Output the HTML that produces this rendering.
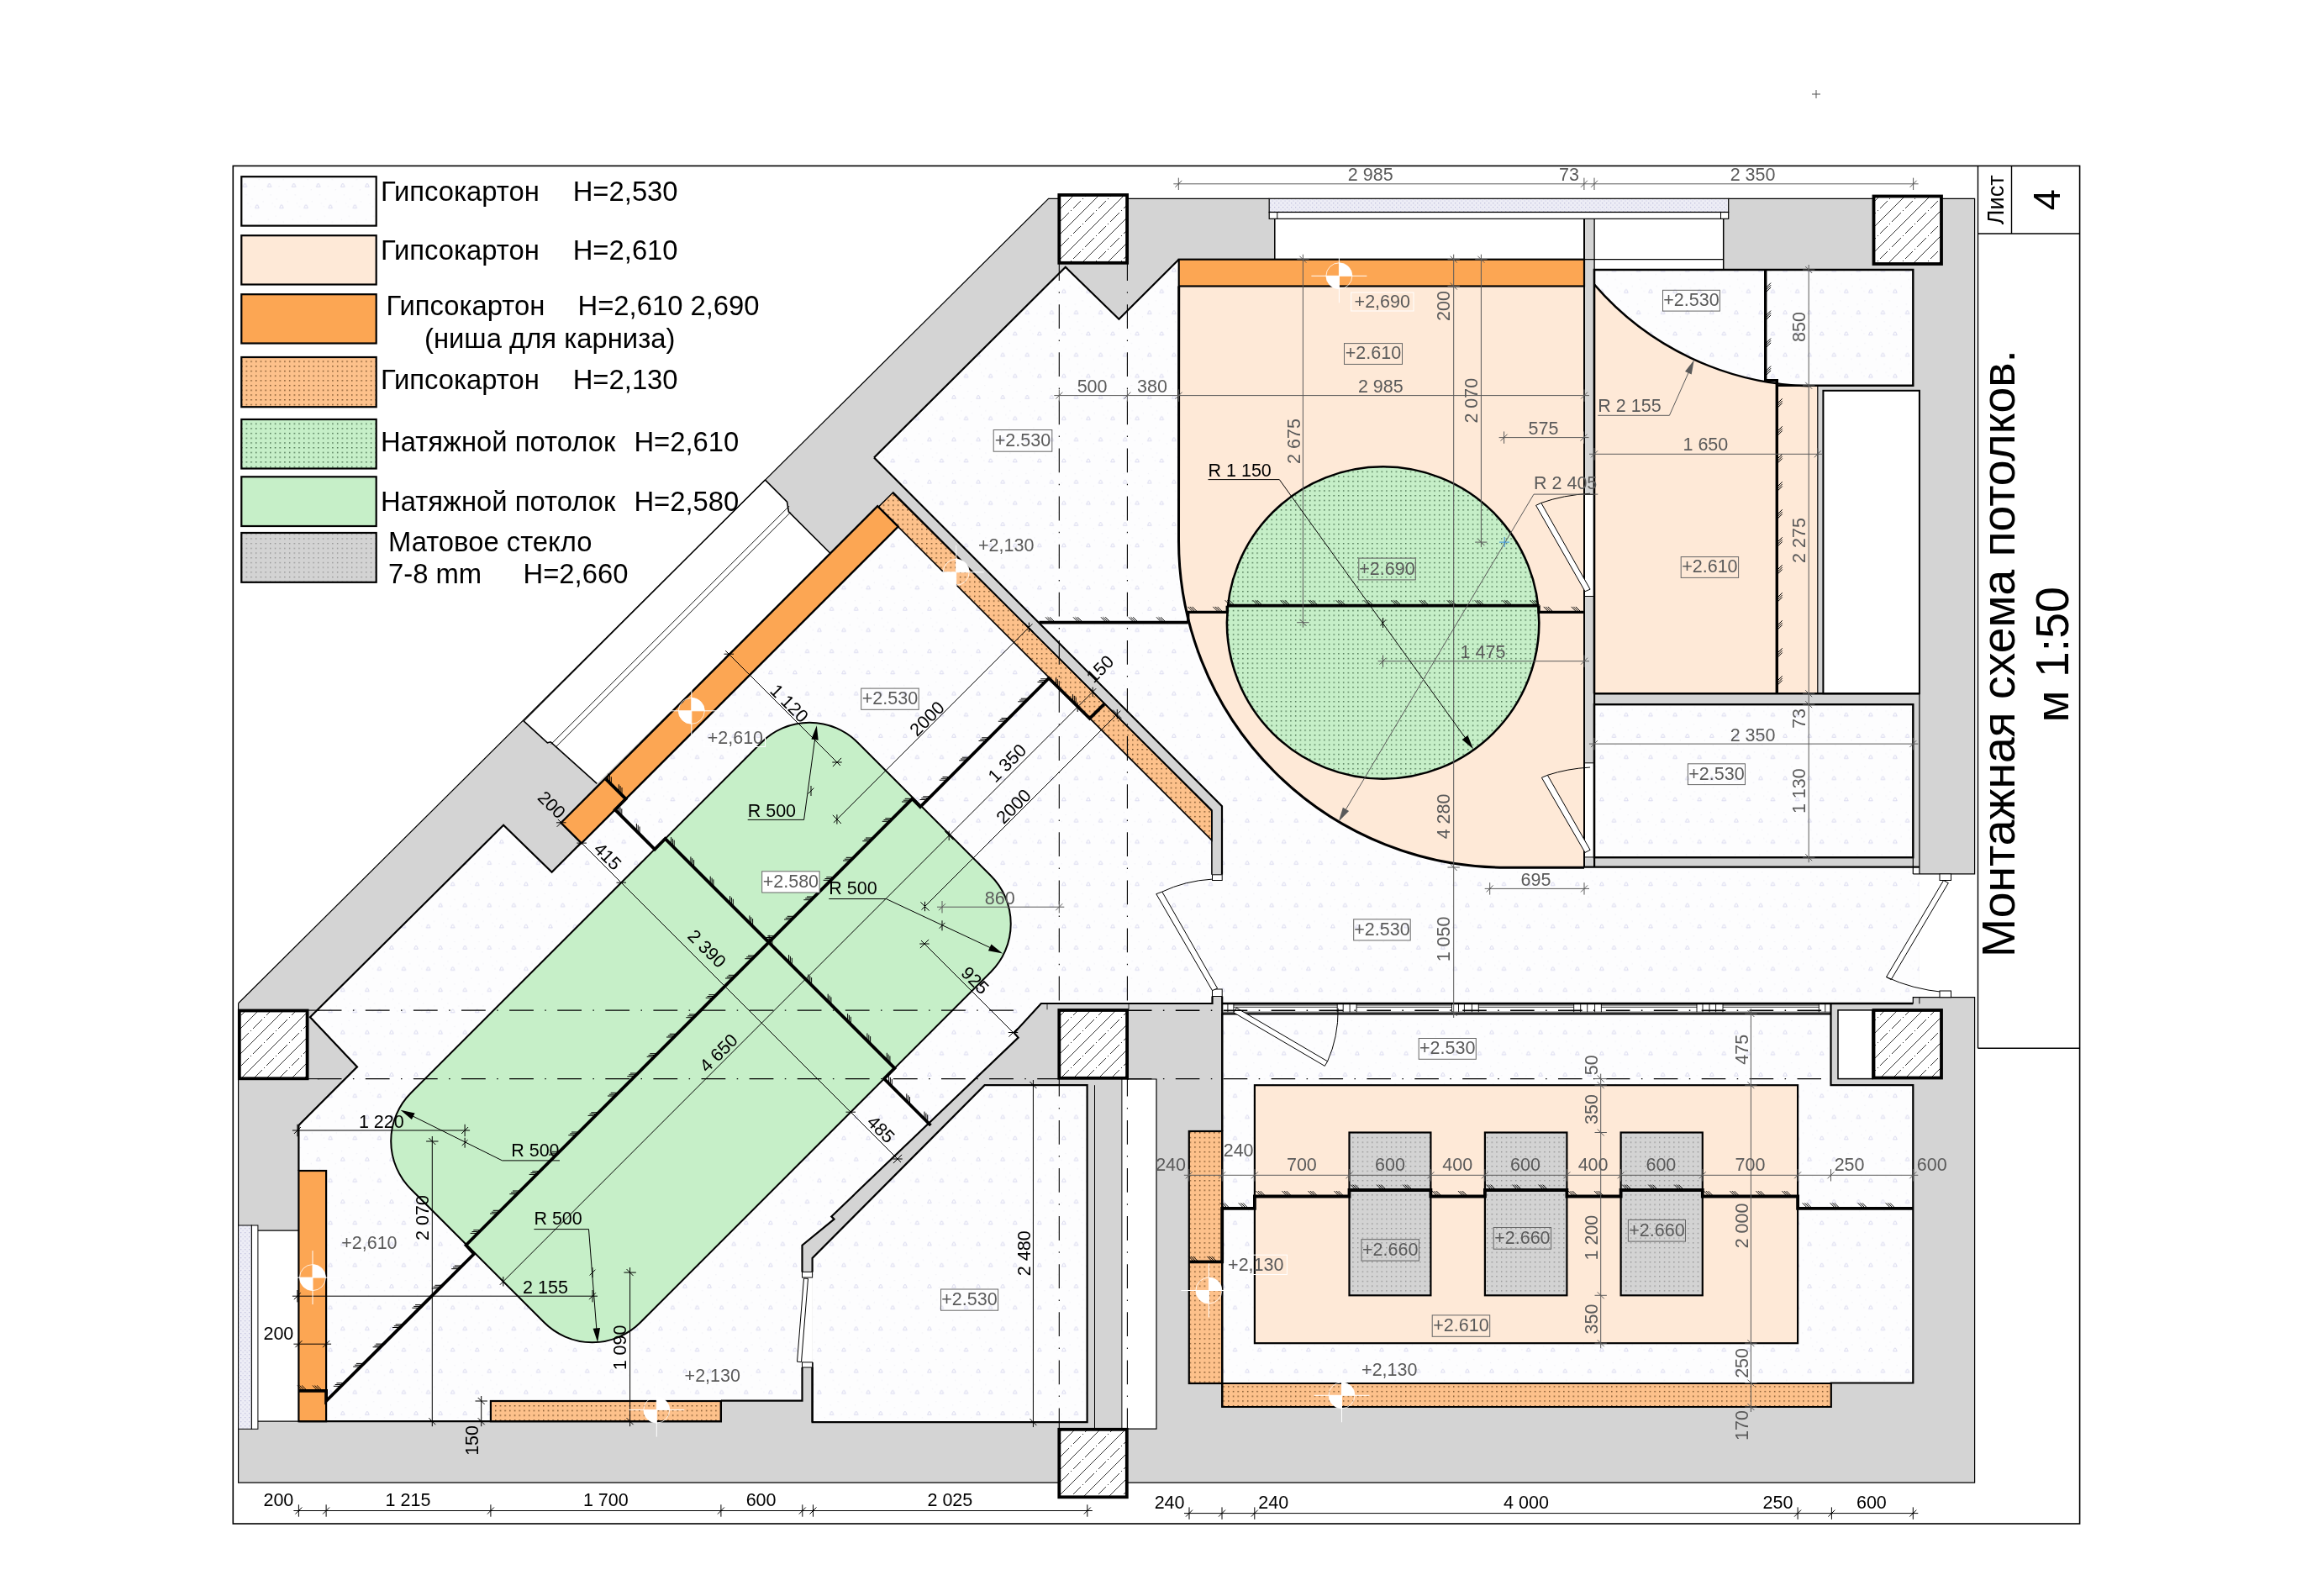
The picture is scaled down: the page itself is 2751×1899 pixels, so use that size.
<!DOCTYPE html>
<html><head><meta charset="utf-8"><title>plan</title>
<style>
html,body{margin:0;padding:0;background:#fff;}
svg{display:block;will-change:transform;}
text{font-family:"Liberation Sans",sans-serif;}
</style></head><body>
<svg width="2751" height="1899" viewBox="0 0 2751 1899">
<defs>
<pattern id="pTri" width="29.09" height="50.38" patternUnits="userSpaceOnUse" patternTransform="translate(-4.28,-0.2)">
<rect width="29.09" height="50.38" fill="#fdfdfe"/>
<path d="M17 46.2 L18.6 42.6 L20 42.6 L21.6 46.2 Z M2.5 21 L4.1 17.4 L5.5 17.4 L7.1 21 Z" fill="none" stroke="#cbcbe9" stroke-width="0.7"/>
<g fill="#ebebf3"><rect x="12" y="5" width="1" height="1"/><rect x="21" y="12" width="1" height="1"/><rect x="6" y="30" width="1" height="1"/><rect x="25" y="24" width="1" height="1"/><rect x="13" y="35" width="1" height="1"/><rect x="11" y="44" width="1" height="1"/><rect x="26" y="38" width="1" height="1"/><rect x="16" y="20" width="1" height="1"/><rect x="3" y="9" width="1" height="1"/><rect x="8" y="40" width="1" height="1"/></g>
</pattern>
<pattern id="pOrd" width="5.7" height="5.7" patternUnits="userSpaceOnUse">
<rect width="5.7" height="5.7" fill="#fdc18b"/><rect x="2" y="2" width="1.3" height="1.3" fill="#4d2c0a"/>
</pattern>
<pattern id="pGrd" width="5.7" height="5.7" patternUnits="userSpaceOnUse">
<rect width="5.7" height="5.7" fill="#c6efc8"/><rect x="2" y="2" width="1.3" height="1.3" fill="#234a2a"/>
</pattern>
<pattern id="pGls" width="5.7" height="5.7" patternUnits="userSpaceOnUse">
<rect width="5.7" height="5.7" fill="#d3d3d3"/><rect x="2" y="2" width="1.2" height="1.2" fill="#7a7a7a"/>
</pattern>
<pattern id="pWin" width="5" height="5" patternUnits="userSpaceOnUse">
<rect width="5" height="5" fill="#ededf6"/><rect x="1" y="1" width="1.3" height="1.3" fill="#c2c2de"/><rect x="3.5" y="3.5" width="1.2" height="1.2" fill="#cfcfe6"/>
</pattern>
<pattern id="pCol" width="30" height="30" patternUnits="userSpaceOnUse" patternTransform="translate(4,6)">
<rect width="30" height="30" fill="#fff"/>
<path d="M-1 31 L31 -1 M-1 1 L1 -1 M29 31 L31 29" stroke="#000" stroke-width="0.8"/>
<path d="M1 14 L8 7 M10 5 L11 4 M13 2 L15 0 M15 30 L22 23 M24 21 L25 20 M27 18 L30 15 M0 15 L1 14" stroke="#000" stroke-width="0.8"/>
</pattern>
</defs>
<rect width="2751" height="1899" fill="#fff"/>

<rect x="277.3" y="197.4" width="2197.3" height="1615.6" fill="none" stroke="#000" stroke-width="1.6" />
<line x1="2353.5" y1="197.4" x2="2353.5" y2="1247.3" stroke="#000" stroke-width="1.4" />
<line x1="2393.5" y1="197.4" x2="2393.5" y2="278.0" stroke="#000" stroke-width="1.4" />
<line x1="2353.5" y1="278.0" x2="2474.6" y2="278.0" stroke="#000" stroke-width="1.4" />
<line x1="2353.5" y1="1247.3" x2="2474.6" y2="1247.3" stroke="#000" stroke-width="1.4" />
<text transform="translate(2384.0,237.8) rotate(-90)" font-size="27" text-anchor="middle" fill="#000" >Лист</text>
<text transform="translate(2451.0,237.8) rotate(-90)" font-size="45" text-anchor="middle" fill="#000" >4</text>
<text transform="translate(2397.0,777.5) rotate(-90)" font-size="55.3" text-anchor="middle" fill="#000" >Монтажная схема потолков.</text>
<text transform="translate(2461.0,778.8) rotate(-90)" font-size="55.4" text-anchor="middle" fill="#000" >м 1:50</text>
<line x1="2156.0" y1="112.0" x2="2166.0" y2="112.0" stroke="#555" stroke-width="1" />
<line x1="2161.0" y1="107.0" x2="2161.0" y2="117.0" stroke="#555" stroke-width="1" />
<polygon points="1247.6,236.3 2349.6,236.3 2349.6,1764.2 283.6,1764.2 283.6,1193.7" fill="#d4d4d4" stroke="none" stroke-width="0" />
<polygon points="1896.9,321.0 2276.3,321.0 2276.3,458.8 2162.8,458.8 2162.8,825.2 1896.9,825.2" fill="url(#pTri)" stroke="none" stroke-width="0" />
<polygon points="1896.9,838.2 2276.3,838.2 2276.3,1020.2 1896.9,1020.2" fill="url(#pTri)" stroke="none" stroke-width="0" />
<polygon points="1267.8,317.8 1331.4,379.8 1402.6,308.7 1885.0,308.7 1885.0,1031.7 2283.9,1031.7 2283.9,1186.7 2276.3,1186.7 2276.3,1194.3 1454.2,1193.7 1454.2,959.3 1040.0,544.5" fill="url(#pTri)" stroke="none" stroke-width="0" />
<polygon points="1062.2,586.6 1441.9,963.9 1441.9,1194.0 1238.8,1194.0 1206.7,1228.9 1211.6,1234.6 989.3,1447.4 992.5,1450.6 954.5,1481.7 954.5,1666.7 857.9,1666.7 857.9,1691.2 355.4,1691.2 355.4,1339.0 425.0,1269.4 369.0,1210.3 599.1,981.7 656.6,1037.8 691.4,1002.9 666.6,977.6 1045.8,603.6" fill="url(#pTri)" stroke="none" stroke-width="0" />
<rect x="1441.0" y="1040.8" width="14.0" height="136.2" fill="url(#pTri)" stroke="none" stroke-width="0" />
<polygon points="1454.2,1205.8 2178.5,1205.8 2178.5,1291.2 2276.3,1291.2 2276.3,1645.5 2178.8,1645.5 2178.8,1674.0 1454.2,1674.0 1454.2,1646.0 1414.8,1646.0 1414.8,1346.0 1454.2,1346.0" fill="url(#pTri)" stroke="none" stroke-width="0" />
<polygon points="1171.6,1291.2 1293.6,1291.2 1293.6,1692.1 966.6,1692.1 966.6,1497.0" fill="url(#pTri)" stroke="none" stroke-width="0" />
<rect x="1516.8" y="260.2" width="368.2" height="48.5" fill="#fff" stroke="none" stroke-width="0" />
<rect x="1897.1" y="260.2" width="153.6" height="60.8" fill="#fff" stroke="none" stroke-width="0" />
<rect x="1885.0" y="260.2" width="12.1" height="771.5" fill="#d4d4d4" stroke="none" stroke-width="0" />
<rect x="2169.4" y="464.8" width="114.5" height="360.4" fill="#fff" stroke="none" stroke-width="0" />
<rect x="2283.9" y="1039.9" width="65.7" height="146.8" fill="#fff" stroke="none" stroke-width="0" />
<rect x="2348.8" y="1040.5" width="2.7" height="145.6" fill="#fff" stroke="none" stroke-width="0" />
<rect x="2187.0" y="1201.9" width="40.9" height="81.7" fill="#fff" stroke="none" stroke-width="0" />
<rect x="1334.9" y="1284.0" width="41.1" height="416.2" fill="#fff" stroke="none" stroke-width="0" />
<rect x="283.6" y="1458.0" width="23.3" height="242.3" fill="#fff" stroke="none" stroke-width="0" />
<rect x="306.9" y="1464.1" width="48.5" height="227.1" fill="#fff" stroke="none" stroke-width="0" />
<rect x="1454.2" y="1193.7" width="724.3" height="12.5" fill="#fff" stroke="none" stroke-width="0" />
<rect x="1885.0" y="588.4" width="12.1" height="121.1" fill="#fff" stroke="none" stroke-width="0" />
<rect x="1885.0" y="907.8" width="12.1" height="112.1" fill="#fff" stroke="none" stroke-width="0" />
<polygon points="910.3,570.9 936.5,597.1 938.4,608.8 988.6,659.0 710.3,932.3 655.2,882.8 651.4,883.8 622.8,857.7" fill="#fff" stroke="none" stroke-width="0" />
<rect x="954.5" y="1513.4" width="12.1" height="107.5" fill="#fff" stroke="none" stroke-width="0" />
<path d="M1402.7 340.5 L1885 340.5 L1885 1032.2 L1791.5 1032.2 A389.0 389.0 0 0 1 1402.5 643.2 Z" fill="#fee9d7"/>
<rect x="1402.7" y="308.7" width="482.3" height="31.8" fill="#fca653" stroke="none" stroke-width="0" />
<circle cx="1645.6" cy="741.0" r="185.7" fill="url(#pGrd)"/>
<path d="M1896.9 338.4 A348.5 348.5 0 0 0 2162.8 459.5 L2162.8 825.2 L1896.9 825.2 Z" fill="#fee9d7"/>
<rect x="1492.9" y="1291.2" width="646.2" height="307.0" fill="#fee9d7" stroke="none" stroke-width="0" />
<rect x="1605.5" y="1347.5" width="96.9" height="193.8" fill="url(#pGls)" stroke="none" stroke-width="0" />
<rect x="1766.9" y="1347.5" width="97.5" height="193.8" fill="url(#pGls)" stroke="none" stroke-width="0" />
<rect x="1928.6" y="1347.5" width="97.2" height="193.8" fill="url(#pGls)" stroke="none" stroke-width="0" />
<rect x="1414.8" y="1346.0" width="39.4" height="300.0" fill="url(#pOrd)" stroke="none" stroke-width="0" />
<rect x="1454.2" y="1646.0" width="724.6" height="28.0" fill="url(#pOrd)" stroke="none" stroke-width="0" />
<polygon points="667.5,979.0 1044.2,602.2 1068.7,626.6 691.9,1003.4" fill="#fca653" stroke="none" stroke-width="0" />
<polygon points="1045.2,603.2 1062.8,585.8 1441.9,964.9 1441.9,999.9" fill="url(#pOrd)" stroke="none" stroke-width="0" />
<rect x="355.4" y="1393.0" width="32.7" height="298.2" fill="#fca653" stroke="none" stroke-width="0" />
<rect x="583.9" y="1667.0" width="274.0" height="24.2" fill="url(#pOrd)" stroke="none" stroke-width="0" />
<path d="M488.9 1300.5 L906.0 883.5 A80.9 80.9 0 0 1 1020.5 883.5 L1179.0 1042.0 A80.9 80.9 0 0 1 1179.0 1156.5 L762.0 1573.5 A80.9 80.9 0 0 1 647.5 1573.5 L489.0 1415.0 A80.9 80.9 0 0 1 488.9 1300.5 Z" fill="#c6efc8" stroke="#000" stroke-width="2"/>
<polyline points="283.6,1193.7 1247.6,236.3 1510.2,236.3" fill="none" stroke="#000" stroke-width="1.2" />
<polyline points="2056.7,236.3 2349.6,236.3 2349.6,1039.9 2283.9,1039.9" fill="none" stroke="#000" stroke-width="1.2" />
<polyline points="2283.9,1186.7 2349.6,1186.7 2349.6,1764.2 283.6,1764.2 283.6,1193.7" fill="none" stroke="#000" stroke-width="1.2" />
<rect x="1510.2" y="236.3" width="546.5" height="16.2" fill="url(#pWin)" stroke="#000" stroke-width="1.2" />
<rect x="1510.2" y="252.5" width="546.5" height="7.8" fill="#fff" stroke="#000" stroke-width="1.2" />
<line x1="1519.8" y1="252.5" x2="1519.8" y2="260.3" stroke="#000" stroke-width="1" />
<line x1="2047.5" y1="252.5" x2="2047.5" y2="260.3" stroke="#000" stroke-width="1" />
<line x1="1516.8" y1="260.3" x2="1516.8" y2="308.7" stroke="#000" stroke-width="1.5" />
<line x1="2050.7" y1="260.3" x2="2050.7" y2="321.0" stroke="#000" stroke-width="1.5" />
<line x1="1885.0" y1="308.7" x2="2050.7" y2="308.7" stroke="#000" stroke-width="1.2" />
<line x1="1885.0" y1="260.3" x2="1885.0" y2="1031.7" stroke="#000" stroke-width="2" />
<line x1="1897.1" y1="260.3" x2="1897.1" y2="321.0" stroke="#000" stroke-width="1.3" />
<line x1="1897.1" y1="321.0" x2="1897.1" y2="1031.7" stroke="#000" stroke-width="2.2" />
<line x1="1885.0" y1="588.4" x2="1897.1" y2="588.4" stroke="#000" stroke-width="1" />
<line x1="1885.0" y1="709.5" x2="1897.1" y2="709.5" stroke="#000" stroke-width="1" />
<line x1="1885.0" y1="907.8" x2="1897.1" y2="907.8" stroke="#000" stroke-width="1" />
<line x1="1885.0" y1="1019.9" x2="1897.1" y2="1019.9" stroke="#000" stroke-width="1" />
<polyline points="1896.9,825.2 1896.9,321.0 2276.3,321.0 2276.3,458.8 2114.3,458.8" fill="none" stroke="#000" stroke-width="2.4" />
<line x1="1896.9" y1="825.2" x2="2283.9" y2="825.2" stroke="#000" stroke-width="2.4" />
<line x1="2162.8" y1="458.8" x2="2162.8" y2="825.2" stroke="#000" stroke-width="1.2" />
<rect x="2169.4" y="464.8" width="114.5" height="360.4" fill="none" stroke="#000" stroke-width="2" />
<line x1="2283.9" y1="464.8" x2="2283.9" y2="1039.9" stroke="#000" stroke-width="1.2" />
<path d="M1896.9 338.4 A348.5 348.5 0 0 0 2152 459.4" fill="none" stroke="#000" stroke-width="2.4"/>
<rect x="1896.9" y="838.2" width="379.4" height="182.0" fill="none" stroke="#000" stroke-width="2.4" />
<line x1="1885.0" y1="1031.7" x2="2283.9" y2="1031.7" stroke="#000" stroke-width="2.2" />
<line x1="2276.3" y1="1020.2" x2="2276.3" y2="1039.9" stroke="#000" stroke-width="1.2" />
<line x1="2276.3" y1="1039.9" x2="2283.9" y2="1039.9" stroke="#000" stroke-width="1.2" />
<polyline points="1040.0,544.5 1267.8,317.8 1331.4,379.8 1402.6,308.7" fill="none" stroke="#000" stroke-width="2.2" />
<rect x="1402.7" y="308.7" width="482.3" height="31.8" fill="none" stroke="#000" stroke-width="2.2" />
<path d="M1402.7 340.5 L1402.5 643.2 A389.0 389.0 0 0 0 1791.5 1032.2 L1885 1032.2" fill="none" stroke="#000" stroke-width="3"/>
<circle cx="1645.6" cy="741.0" r="185.7" fill="none" stroke="#000" stroke-width="2.6"/>
<polyline points="1040.0,544.5 1454.0,959.3 1454.0,1040.8" fill="none" stroke="#000" stroke-width="2.2" />
<polyline points="1062.2,586.6 1441.9,963.9 1441.9,1040.8" fill="none" stroke="#000" stroke-width="1.5" />
<rect x="1442.5" y="1040.8" width="11.7" height="6.7" fill="#fff" stroke="#000" stroke-width="1" />
<rect x="1442.5" y="1177.0" width="11.7" height="8.5" fill="#fff" stroke="#000" stroke-width="1" />
<polygon points="1375.8,1063.7 1382.8,1061.1 1448.6,1176.0 1442.5,1178.6" fill="#fff" stroke="#000" stroke-width="1" />
<path d="M1382.8 1061.1 Q1410 1048 1442.5 1046.1" fill="none" stroke="#000" stroke-width="1"/>
<polygon points="1827.6,601.4 1833.8,598.4 1892.1,701.2 1886.0,703.7" fill="#fff" stroke="#000" stroke-width="1" />
<path d="M1833.8 598.4 Q1860 589 1892.1 587.2" fill="none" stroke="#000" stroke-width="1"/>
<polygon points="1834.4,925.3 1841.4,922.3 1892.1,1011.3 1886.0,1014.4" fill="#fff" stroke="#000" stroke-width="1" />
<path d="M1841.4 922.3 Q1865 914.5 1892.1 913" fill="none" stroke="#000" stroke-width="1"/>
<polygon points="2312.6,1047.5 2318.3,1050.6 2250.2,1165.6 2244.5,1162.5" fill="#fff" stroke="#000" stroke-width="1" />
<path d="M2244.5 1162.5 Q2275 1177 2314 1180.7" fill="none" stroke="#000" stroke-width="1"/>
<rect x="2308.0" y="1039.9" width="13.5" height="7.6" fill="#fff" stroke="#000" stroke-width="1" />
<rect x="2308.0" y="1179.0" width="13.5" height="7.7" fill="#fff" stroke="#000" stroke-width="1" />
<polyline points="2283.9,1186.7 2276.3,1186.7 2276.3,1194.3" fill="none" stroke="#000" stroke-width="1.2" />
<line x1="1454.2" y1="1194.0" x2="2276.3" y2="1194.0" stroke="#000" stroke-width="2.3" />
<line x1="1454.2" y1="1206.3" x2="2178.5" y2="1206.3" stroke="#000" stroke-width="2.3" />
<line x1="1454.2" y1="1204.2" x2="2178.5" y2="1204.2" stroke="#000" stroke-width="0.8" />
<line x1="1460.9" y1="1194.0" x2="1460.9" y2="1204.2" stroke="#000" stroke-width="0.9" />
<line x1="1467.9" y1="1194.0" x2="1467.9" y2="1204.2" stroke="#000" stroke-width="0.9" />
<line x1="1591.2" y1="1194.0" x2="1591.2" y2="1204.2" stroke="#000" stroke-width="0.9" />
<line x1="1598.2" y1="1194.0" x2="1598.2" y2="1204.2" stroke="#000" stroke-width="0.9" />
<line x1="1606.1" y1="1194.0" x2="1606.1" y2="1204.2" stroke="#000" stroke-width="0.9" />
<line x1="1614.1" y1="1194.0" x2="1614.1" y2="1204.2" stroke="#000" stroke-width="0.9" />
<line x1="1727.5" y1="1194.0" x2="1727.5" y2="1204.2" stroke="#000" stroke-width="0.9" />
<line x1="1735.5" y1="1194.0" x2="1735.5" y2="1204.2" stroke="#000" stroke-width="0.9" />
<line x1="1742.4" y1="1194.0" x2="1742.4" y2="1204.2" stroke="#000" stroke-width="0.9" />
<line x1="1751.4" y1="1194.0" x2="1751.4" y2="1204.2" stroke="#000" stroke-width="0.9" />
<line x1="1759.3" y1="1194.0" x2="1759.3" y2="1204.2" stroke="#000" stroke-width="0.9" />
<line x1="1872.7" y1="1194.0" x2="1872.7" y2="1204.2" stroke="#000" stroke-width="0.9" />
<line x1="1880.7" y1="1194.0" x2="1880.7" y2="1204.2" stroke="#000" stroke-width="0.9" />
<line x1="1888.7" y1="1194.0" x2="1888.7" y2="1204.2" stroke="#000" stroke-width="0.9" />
<line x1="1897.6" y1="1194.0" x2="1897.6" y2="1204.2" stroke="#000" stroke-width="0.9" />
<line x1="1905.4" y1="1194.0" x2="1905.4" y2="1204.2" stroke="#000" stroke-width="0.9" />
<line x1="2019.0" y1="1194.0" x2="2019.0" y2="1204.2" stroke="#000" stroke-width="0.9" />
<line x1="2026.0" y1="1194.0" x2="2026.0" y2="1204.2" stroke="#000" stroke-width="0.9" />
<line x1="2034.0" y1="1194.0" x2="2034.0" y2="1204.2" stroke="#000" stroke-width="0.9" />
<line x1="2041.6" y1="1194.0" x2="2041.6" y2="1204.2" stroke="#000" stroke-width="0.9" />
<line x1="2050.0" y1="1194.0" x2="2050.0" y2="1204.2" stroke="#000" stroke-width="0.9" />
<line x1="2164.3" y1="1194.0" x2="2164.3" y2="1204.2" stroke="#000" stroke-width="0.9" />
<line x1="2171.8" y1="1194.0" x2="2171.8" y2="1204.2" stroke="#000" stroke-width="0.9" />
<line x1="1467.9" y1="1196.0" x2="1591.2" y2="1196.0" stroke="#000" stroke-width="0.8" />
<line x1="1467.9" y1="1198.3" x2="1591.2" y2="1198.3" stroke="#000" stroke-width="0.8" />
<line x1="1614.1" y1="1196.0" x2="1727.5" y2="1196.0" stroke="#000" stroke-width="0.8" />
<line x1="1614.1" y1="1198.3" x2="1727.5" y2="1198.3" stroke="#000" stroke-width="0.8" />
<line x1="1759.3" y1="1196.0" x2="1872.7" y2="1196.0" stroke="#000" stroke-width="0.8" />
<line x1="1759.3" y1="1198.3" x2="1872.7" y2="1198.3" stroke="#000" stroke-width="0.8" />
<line x1="1905.4" y1="1196.0" x2="2019.0" y2="1196.0" stroke="#000" stroke-width="0.8" />
<line x1="1905.4" y1="1198.3" x2="2019.0" y2="1198.3" stroke="#000" stroke-width="0.8" />
<line x1="2050.0" y1="1196.0" x2="2164.3" y2="1196.0" stroke="#000" stroke-width="0.8" />
<line x1="2050.0" y1="1198.3" x2="2164.3" y2="1198.3" stroke="#000" stroke-width="0.8" />
<polygon points="1467.9,1204.8 1471.2,1199.2 1579.6,1262.8 1576.3,1268.4" fill="#fff" stroke="#000" stroke-width="1" />
<path d="M1579.6 1262.8 Q1592.5 1234 1592.2 1199.8" fill="none" stroke="#000" stroke-width="1"/>
<polyline points="1454.2,1205.8 1454.2,1346.0" fill="none" stroke="#000" stroke-width="2.2" />
<polyline points="2178.5,1194.3 2178.5,1291.2 2276.3,1291.2 2276.3,1645.5 2178.8,1645.5 2178.8,1674.0 1454.2,1674.0 1454.2,1646.0" fill="none" stroke="#000" stroke-width="2.2" />
<rect x="1414.8" y="1346.0" width="39.4" height="300.0" fill="none" stroke="#000" stroke-width="2.2" />
<line x1="1454.2" y1="1646.0" x2="2178.8" y2="1646.0" stroke="#000" stroke-width="2.2" />
<rect x="1492.9" y="1291.2" width="646.2" height="307.0" fill="none" stroke="#000" stroke-width="2.2" />
<rect x="1605.5" y="1347.5" width="96.9" height="193.8" fill="none" stroke="#000" stroke-width="2.2" />
<rect x="1766.9" y="1347.5" width="97.5" height="193.8" fill="none" stroke="#000" stroke-width="2.2" />
<rect x="1928.6" y="1347.5" width="97.2" height="193.8" fill="none" stroke="#000" stroke-width="2.2" />
<rect x="2187.0" y="1201.9" width="40.9" height="81.7" fill="none" stroke="#000" stroke-width="1.5" />
<line x1="2283.9" y1="1186.7" x2="2283.9" y2="1194.3" stroke="#000" stroke-width="1" />
<polyline points="1442.5,1185.5 1442.5,1194.0 1238.8,1194.0 1206.7,1228.9 1211.6,1234.6 989.3,1447.4 992.5,1450.6 954.5,1481.7 954.5,1513.4" fill="none" stroke="#000" stroke-width="2.2" />
<line x1="1454.2" y1="1185.5" x2="1454.2" y2="1674.0" stroke="#000" stroke-width="2.2" />
<polyline points="966.6,1513.4 966.6,1497.0 1171.6,1291.2 1293.6,1291.2 1293.6,1692.1 966.6,1692.1 966.6,1620.9" fill="none" stroke="#000" stroke-width="2.2" />
<line x1="1302.5" y1="1291.2" x2="1302.5" y2="1700.0" stroke="#000" stroke-width="1" />
<polyline points="1334.9,1284.0 1334.9,1700.2" fill="none" stroke="#000" stroke-width="1" />
<polyline points="1342.0,1284.0 1376.0,1284.0 1376.0,1700.2 1342.0,1700.2" fill="none" stroke="#000" stroke-width="1.2" />
<line x1="1246.0" y1="1194.0" x2="1246.0" y2="1201.3" stroke="#000" stroke-width="0.8" />
<line x1="1343.0" y1="1194.0" x2="1343.0" y2="1201.3" stroke="#000" stroke-width="0.8" />
<rect x="954.5" y="1513.4" width="12.1" height="6.6" fill="#fff" stroke="#000" stroke-width="1" />
<rect x="954.5" y="1620.9" width="12.1" height="6.1" fill="#fff" stroke="#000" stroke-width="1" />
<polygon points="956.5,1521.0 961.5,1521.4 953.5,1620.6 948.5,1620.2" fill="#fff" stroke="#000" stroke-width="1" />
<polyline points="954.5,1627.0 954.5,1666.7 857.9,1666.7" fill="none" stroke="#000" stroke-width="2.2" />
<line x1="966.6" y1="1627.0" x2="966.6" y2="1692.1" stroke="#000" stroke-width="2.2" />
<polyline points="857.9,1666.7 857.9,1691.2 355.4,1691.2" fill="none" stroke="#000" stroke-width="2.2" />
<rect x="583.9" y="1667.0" width="274.0" height="24.2" fill="none" stroke="#000" stroke-width="2.2" />
<rect x="355.4" y="1393.0" width="32.7" height="298.2" fill="none" stroke="#000" stroke-width="2.2" />
<polyline points="355.4,1393.0 355.4,1339.0 425.0,1269.4 369.0,1210.3 599.1,981.7 656.6,1037.8 691.4,1002.9" fill="none" stroke="#000" stroke-width="2.2" />
<polygon points="667.5,979.0 1044.2,602.2 1068.7,626.6 691.9,1003.4" fill="none" stroke="#000" stroke-width="2.4" />
<polygon points="1045.2,603.2 1062.8,585.8 1441.9,964.9 1441.9,999.9" fill="none" stroke="#000" stroke-width="1.6" />
<line x1="623.1" y1="858.1" x2="910.3" y2="570.9" stroke="#000" stroke-width="1.2" />
<line x1="655.6" y1="885.6" x2="939.1" y2="602.1" stroke="#000" stroke-width="0.9" />
<line x1="661.1" y1="889.1" x2="940.6" y2="609.6" stroke="#000" stroke-width="0.9" />
<polyline points="910.3,570.9 936.5,597.1 938.4,608.8 988.6,659.0" fill="none" stroke="#000" stroke-width="1.6" />
<polyline points="622.8,857.7 651.4,883.8 655.2,882.8 710.3,932.3" fill="none" stroke="#000" stroke-width="1.6" />
<rect x="283.6" y="1458.0" width="15.8" height="242.3" fill="url(#pWin)" stroke="#000" stroke-width="1" />
<rect x="299.4" y="1458.0" width="7.5" height="242.3" fill="#fff" stroke="#000" stroke-width="1" />
<line x1="306.9" y1="1464.1" x2="355.4" y2="1464.1" stroke="#000" stroke-width="1.2" />
<line x1="306.9" y1="1691.2" x2="355.4" y2="1691.2" stroke="#000" stroke-width="1.2" />
<polyline points="1236.4,740.7 1413.8,740.7" fill="none" stroke="#000" stroke-width="3.7" />
<polyline points="1413.8,740.7 1413.8,728.3 1460.2,728.3 1460.2,720.7" fill="none" stroke="#000" stroke-width="3.2" />
<polyline points="1460.2,720.7 1831.1,720.7" fill="none" stroke="#000" stroke-width="3.8" />
<polyline points="1831.1,720.7 1831.1,728.3 1885.0,728.3" fill="none" stroke="#000" stroke-width="3.2" />
<path d="M1250.4 740.7 L1244.0 734.3 M1253.0 740.7 L1246.6 734.3 M1255.6 740.7 L1249.2 734.3 M1283.4 740.7 L1277.0 734.3 M1286.0 740.7 L1279.6 734.3 M1288.6 740.7 L1282.2 734.3 M1316.4 740.7 L1310.0 734.3 M1319.0 740.7 L1312.6 734.3 M1321.6 740.7 L1315.2 734.3 M1349.4 740.7 L1343.0 734.3 M1352.0 740.7 L1345.6 734.3 M1354.6 740.7 L1348.2 734.3 M1382.4 740.7 L1376.0 734.3 M1385.0 740.7 L1378.6 734.3 M1387.6 740.7 L1381.2 734.3" stroke="#000" stroke-width="1.0" fill="none"/>
<path d="M1419.8 728.3 L1413.4 721.9 M1422.4 728.3 L1416.0 721.9 M1425.0 728.3 L1418.6 721.9 M1449.8 728.3 L1443.4 721.9 M1452.4 728.3 L1446.0 721.9 M1455.0 728.3 L1448.6 721.9" stroke="#000" stroke-width="1.0" fill="none"/>
<path d="M1464.2 720.7 L1457.8 714.3 M1466.8 720.7 L1460.4 714.3 M1469.4 720.7 L1463.0 714.3 M1497.2 720.7 L1490.8 714.3 M1499.8 720.7 L1493.4 714.3 M1502.4 720.7 L1496.0 714.3 M1530.2 720.7 L1523.8 714.3 M1532.8 720.7 L1526.4 714.3 M1535.4 720.7 L1529.0 714.3 M1563.2 720.7 L1556.8 714.3 M1565.8 720.7 L1559.4 714.3 M1568.4 720.7 L1562.0 714.3 M1596.2 720.7 L1589.8 714.3 M1598.8 720.7 L1592.4 714.3 M1601.4 720.7 L1595.0 714.3 M1629.2 720.7 L1622.8 714.3 M1631.8 720.7 L1625.4 714.3 M1634.4 720.7 L1628.0 714.3 M1662.2 720.7 L1655.8 714.3 M1664.8 720.7 L1658.4 714.3 M1667.4 720.7 L1661.0 714.3 M1695.2 720.7 L1688.8 714.3 M1697.8 720.7 L1691.4 714.3 M1700.4 720.7 L1694.0 714.3 M1728.2 720.7 L1721.8 714.3 M1730.8 720.7 L1724.4 714.3 M1733.4 720.7 L1727.0 714.3 M1761.2 720.7 L1754.8 714.3 M1763.8 720.7 L1757.4 714.3 M1766.4 720.7 L1760.0 714.3 M1794.2 720.7 L1787.8 714.3 M1796.8 720.7 L1790.4 714.3 M1799.4 720.7 L1793.0 714.3 M1827.2 720.7 L1820.8 714.3 M1829.8 720.7 L1823.4 714.3 M1832.4 720.7 L1826.0 714.3" stroke="#000" stroke-width="1.0" fill="none"/>
<path d="M1843.1 728.3 L1836.7 721.9 M1845.7 728.3 L1839.3 721.9 M1848.3 728.3 L1841.9 721.9 M1876.1 728.3 L1869.7 721.9 M1878.7 728.3 L1872.3 721.9 M1881.3 728.3 L1874.9 721.9" stroke="#000" stroke-width="1.0" fill="none"/>
<polyline points="2100.7,321.0 2100.7,452.7 2114.3,452.7 2114.3,825.2" fill="none" stroke="#000" stroke-width="3.4" />
<path d="M2100.7 343.0 L2107.1 336.6 M2100.7 345.6 L2107.1 339.2 M2100.7 348.2 L2107.1 341.8 M2100.7 376.0 L2107.1 369.6 M2100.7 378.6 L2107.1 372.2 M2100.7 381.2 L2107.1 374.8 M2100.7 409.0 L2107.1 402.6 M2100.7 411.6 L2107.1 405.2 M2100.7 414.2 L2107.1 407.8 M2100.7 442.0 L2107.1 435.6 M2100.7 444.6 L2107.1 438.2 M2100.7 447.2 L2107.1 440.8" stroke="#000" stroke-width="1.0" fill="none"/>
<path d="M2114.3 480.7 L2120.7 474.3 M2114.3 483.3 L2120.7 476.9 M2114.3 485.9 L2120.7 479.5 M2114.3 513.7 L2120.7 507.3 M2114.3 516.3 L2120.7 509.9 M2114.3 518.9 L2120.7 512.5 M2114.3 546.7 L2120.7 540.3 M2114.3 549.3 L2120.7 542.9 M2114.3 551.9 L2120.7 545.5 M2114.3 579.7 L2120.7 573.3 M2114.3 582.3 L2120.7 575.9 M2114.3 584.9 L2120.7 578.5 M2114.3 612.7 L2120.7 606.3 M2114.3 615.3 L2120.7 608.9 M2114.3 617.9 L2120.7 611.5 M2114.3 645.7 L2120.7 639.3 M2114.3 648.3 L2120.7 641.9 M2114.3 650.9 L2120.7 644.5 M2114.3 678.7 L2120.7 672.3 M2114.3 681.3 L2120.7 674.9 M2114.3 683.9 L2120.7 677.5 M2114.3 711.7 L2120.7 705.3 M2114.3 714.3 L2120.7 707.9 M2114.3 716.9 L2120.7 710.5 M2114.3 744.7 L2120.7 738.3 M2114.3 747.3 L2120.7 740.9 M2114.3 749.9 L2120.7 743.5 M2114.3 777.7 L2120.7 771.3 M2114.3 780.3 L2120.7 773.9 M2114.3 782.9 L2120.7 776.5 M2114.3 810.7 L2120.7 804.3 M2114.3 813.3 L2120.7 806.9 M2114.3 815.9 L2120.7 809.5" stroke="#000" stroke-width="1.0" fill="none"/>
<polyline points="1414.8,1501.3 1454.2,1501.3 1454.2,1437.8 1492.9,1437.8 1492.9,1423.5 1605.5,1423.5 1605.5,1416.0 1702.4,1416.0 1702.4,1423.5 1766.9,1423.5 1766.9,1416.0 1864.4,1416.0 1864.4,1423.5 1928.6,1423.5 1928.6,1416.0 2025.8,1416.0 2025.8,1423.5 2139.1,1423.5 2139.1,1437.8 2276.3,1437.8" fill="none" stroke="#000" stroke-width="3.8" />
<path d="M1420.8 1501.3 L1414.4 1494.9 M1423.4 1501.3 L1417.0 1494.9 M1426.0 1501.3 L1419.6 1494.9 M1442.8 1501.3 L1436.4 1494.9 M1445.4 1501.3 L1439.0 1494.9 M1448.0 1501.3 L1441.6 1494.9" stroke="#000" stroke-width="1.0" fill="none"/>
<path d="M1458.2 1437.8 L1451.8 1431.4 M1460.8 1437.8 L1454.4 1431.4 M1463.4 1437.8 L1457.0 1431.4 M1480.2 1437.8 L1473.8 1431.4 M1482.8 1437.8 L1476.4 1431.4 M1485.4 1437.8 L1479.0 1431.4" stroke="#000" stroke-width="1.0" fill="none"/>
<path d="M1500.9 1423.5 L1494.5 1417.1 M1503.5 1423.5 L1497.1 1417.1 M1506.1 1423.5 L1499.7 1417.1 M1531.9 1423.5 L1525.5 1417.1 M1534.5 1423.5 L1528.1 1417.1 M1537.1 1423.5 L1530.7 1417.1 M1562.9 1423.5 L1556.5 1417.1 M1565.5 1423.5 L1559.1 1417.1 M1568.1 1423.5 L1561.7 1417.1 M1593.9 1423.5 L1587.5 1417.1 M1596.5 1423.5 L1590.1 1417.1 M1599.1 1423.5 L1592.7 1417.1" stroke="#000" stroke-width="1.0" fill="none"/>
<path d="M1613.5 1416.0 L1607.1 1409.6 M1616.1 1416.0 L1609.7 1409.6 M1618.7 1416.0 L1612.3 1409.6 M1644.5 1416.0 L1638.1 1409.6 M1647.1 1416.0 L1640.7 1409.6 M1649.7 1416.0 L1643.3 1409.6 M1675.5 1416.0 L1669.1 1409.6 M1678.1 1416.0 L1671.7 1409.6 M1680.7 1416.0 L1674.3 1409.6" stroke="#000" stroke-width="1.0" fill="none"/>
<path d="M1710.4 1423.5 L1704.0 1417.1 M1713.0 1423.5 L1706.6 1417.1 M1715.6 1423.5 L1709.2 1417.1 M1741.4 1423.5 L1735.0 1417.1 M1744.0 1423.5 L1737.6 1417.1 M1746.6 1423.5 L1740.2 1417.1" stroke="#000" stroke-width="1.0" fill="none"/>
<path d="M1774.9 1416.0 L1768.5 1409.6 M1777.5 1416.0 L1771.1 1409.6 M1780.1 1416.0 L1773.7 1409.6 M1805.9 1416.0 L1799.5 1409.6 M1808.5 1416.0 L1802.1 1409.6 M1811.1 1416.0 L1804.7 1409.6 M1836.9 1416.0 L1830.5 1409.6 M1839.5 1416.0 L1833.1 1409.6 M1842.1 1416.0 L1835.7 1409.6" stroke="#000" stroke-width="1.0" fill="none"/>
<path d="M1872.4 1423.5 L1866.0 1417.1 M1875.0 1423.5 L1868.6 1417.1 M1877.6 1423.5 L1871.2 1417.1 M1903.4 1423.5 L1897.0 1417.1 M1906.0 1423.5 L1899.6 1417.1 M1908.6 1423.5 L1902.2 1417.1" stroke="#000" stroke-width="1.0" fill="none"/>
<path d="M1936.6 1416.0 L1930.2 1409.6 M1939.2 1416.0 L1932.8 1409.6 M1941.8 1416.0 L1935.4 1409.6 M1967.6 1416.0 L1961.2 1409.6 M1970.2 1416.0 L1963.8 1409.6 M1972.8 1416.0 L1966.4 1409.6 M1998.6 1416.0 L1992.2 1409.6 M2001.2 1416.0 L1994.8 1409.6 M2003.8 1416.0 L1997.4 1409.6" stroke="#000" stroke-width="1.0" fill="none"/>
<path d="M2033.8 1423.5 L2027.4 1417.1 M2036.4 1423.5 L2030.0 1417.1 M2039.0 1423.5 L2032.6 1417.1 M2064.8 1423.5 L2058.4 1417.1 M2067.4 1423.5 L2061.0 1417.1 M2070.0 1423.5 L2063.6 1417.1 M2095.8 1423.5 L2089.4 1417.1 M2098.4 1423.5 L2092.0 1417.1 M2101.0 1423.5 L2094.6 1417.1 M2126.8 1423.5 L2120.4 1417.1 M2129.4 1423.5 L2123.0 1417.1 M2132.0 1423.5 L2125.6 1417.1" stroke="#000" stroke-width="1.0" fill="none"/>
<path d="M2151.1 1437.8 L2144.7 1431.4 M2153.7 1437.8 L2147.3 1431.4 M2156.3 1437.8 L2149.9 1431.4 M2184.1 1437.8 L2177.7 1431.4 M2186.7 1437.8 L2180.3 1431.4 M2189.3 1437.8 L2182.9 1431.4 M2217.1 1437.8 L2210.7 1431.4 M2219.7 1437.8 L2213.3 1431.4 M2222.3 1437.8 L2215.9 1431.4 M2250.1 1437.8 L2243.7 1431.4 M2252.7 1437.8 L2246.3 1431.4 M2255.3 1437.8 L2248.9 1431.4" stroke="#000" stroke-width="1.0" fill="none"/>
<polyline points="355.4,1654.9 388.1,1654.9 388.1,1667.0 564.0,1492.0 554.5,1481.5 1085.5,950.5 1095.0,960.0 1248.0,807.0 1296.6,854.9 1313.8,837.8" fill="none" stroke="#000" stroke-width="3.8" />
<path d="M360.4 1654.9 L354.0 1648.5 M363.0 1654.9 L356.6 1648.5 M365.6 1654.9 L359.2 1648.5 M378.4 1654.9 L372.0 1648.5 M381.0 1654.9 L374.6 1648.5 M383.6 1654.9 L377.2 1648.5" stroke="#000" stroke-width="1.0" fill="none"/>
<path d="M405.8 1649.4 L396.8 1649.3 M407.7 1647.5 L398.7 1647.5 M409.5 1645.7 L400.5 1645.7 M429.2 1626.1 L420.2 1626.1 M431.1 1624.3 L422.1 1624.2 M432.9 1622.4 L423.9 1622.4 M452.6 1602.8 L443.6 1602.8 M454.5 1601.0 L445.5 1601.0 M456.3 1599.2 L447.3 1599.1 M476.0 1579.5 L467.0 1579.5 M477.8 1577.7 L468.8 1577.7 M479.7 1575.9 L470.7 1575.9 M499.4 1556.3 L490.4 1556.2 M501.2 1554.4 L492.2 1554.4 M503.1 1552.6 L494.1 1552.6 M522.8 1533.0 L513.8 1533.0 M524.6 1531.2 L515.6 1531.1 M526.5 1529.3 L517.5 1529.3 M546.2 1509.7 L537.2 1509.7 M548.0 1507.9 L539.0 1507.9 M549.9 1506.1 L540.9 1506.0" stroke="#000" stroke-width="1.0" fill="none"/>
<path d="M568.6 1467.4 L559.6 1467.4 M570.5 1465.5 L561.5 1465.5 M572.3 1463.7 L563.3 1463.7 M592.0 1444.0 L583.0 1444.0 M593.8 1442.2 L584.8 1442.2 M595.7 1440.3 L586.7 1440.3 M615.3 1420.7 L606.3 1420.7 M617.1 1418.9 L608.1 1418.9 M619.0 1417.0 L610.0 1417.0 M638.6 1397.4 L629.6 1397.4 M640.5 1395.5 L631.5 1395.5 M642.3 1393.7 L633.3 1393.7 M662.0 1374.0 L653.0 1374.0 M663.8 1372.2 L654.8 1372.2 M665.7 1370.3 L656.7 1370.3 M685.3 1350.7 L676.3 1350.7 M687.2 1348.8 L678.2 1348.8 M689.0 1347.0 L680.0 1347.0 M708.6 1327.4 L699.6 1327.4 M710.5 1325.5 L701.5 1325.5 M712.3 1323.7 L703.3 1323.7 M732.0 1304.0 L723.0 1304.0 M733.8 1302.2 L724.8 1302.2 M735.7 1300.3 L726.7 1300.3 M755.3 1280.7 L746.3 1280.7 M757.2 1278.8 L748.2 1278.8 M759.0 1277.0 L750.0 1277.0 M778.7 1257.3 L769.7 1257.3 M780.5 1255.5 L771.5 1255.5 M782.3 1253.7 L773.3 1253.7 M802.0 1234.0 L793.0 1234.0 M803.8 1232.2 L794.8 1232.2 M805.7 1230.3 L796.7 1230.3 M825.3 1210.7 L816.3 1210.7 M827.2 1208.8 L818.2 1208.8 M829.0 1207.0 L820.0 1207.0 M848.7 1187.3 L839.7 1187.3 M850.5 1185.5 L841.5 1185.5 M852.3 1183.7 L843.3 1183.7 M872.0 1164.0 L863.0 1164.0 M873.8 1162.2 L864.8 1162.2 M875.7 1160.3 L866.7 1160.3 M895.3 1140.7 L886.3 1140.7 M897.2 1138.8 L888.2 1138.8 M899.0 1137.0 L890.0 1137.0 M918.7 1117.3 L909.7 1117.3 M920.5 1115.5 L911.5 1115.5 M922.3 1113.7 L913.3 1113.7 M942.0 1094.0 L933.0 1094.0 M943.8 1092.2 L934.8 1092.2 M945.7 1090.3 L936.7 1090.3 M965.3 1070.7 L956.3 1070.7 M967.2 1068.8 L958.2 1068.8 M969.0 1067.0 L960.0 1067.0 M988.7 1047.3 L979.7 1047.3 M990.5 1045.5 L981.5 1045.5 M992.3 1043.7 L983.3 1043.7 M1012.0 1024.0 L1003.0 1024.0 M1013.8 1022.2 L1004.8 1022.2 M1015.7 1020.3 L1006.7 1020.3 M1035.3 1000.7 L1026.3 1000.7 M1037.2 998.8 L1028.2 998.8 M1039.0 997.0 L1030.0 997.0 M1058.7 977.3 L1049.7 977.3 M1060.5 975.5 L1051.5 975.5 M1062.3 973.7 L1053.3 973.7 M1082.0 954.0 L1073.0 954.0 M1083.8 952.2 L1074.8 952.2 M1085.7 950.3 L1076.7 950.3" stroke="#000" stroke-width="1.0" fill="none"/>
<path d="M1103.5 951.5 L1094.5 951.5 M1105.3 949.7 L1096.3 949.7 M1107.2 947.8 L1098.2 947.8 M1126.8 928.2 L1117.8 928.2 M1128.7 926.3 L1119.7 926.3 M1130.5 924.5 L1121.5 924.5 M1150.2 904.8 L1141.2 904.8 M1152.0 903.0 L1143.0 903.0 M1153.8 901.2 L1144.8 901.2 M1173.5 881.5 L1164.5 881.5 M1175.3 879.7 L1166.3 879.7 M1177.2 877.8 L1168.2 877.8 M1196.8 858.2 L1187.8 858.2 M1198.7 856.3 L1189.7 856.3 M1200.5 854.5 L1191.5 854.5 M1220.2 834.8 L1211.2 834.8 M1222.0 833.0 L1213.0 833.0 M1223.8 831.2 L1214.8 831.2 M1243.5 811.5 L1234.5 811.5 M1245.3 809.7 L1236.3 809.7 M1247.2 807.8 L1238.2 807.8" stroke="#000" stroke-width="1.0" fill="none"/>
<path d="M1256.5 815.4 L1256.5 806.4 M1258.4 817.2 L1258.3 808.2 M1260.3 819.1 L1260.2 810.1 M1276.5 835.1 L1276.4 826.1 M1278.3 836.9 L1278.3 827.9 M1280.2 838.7 L1280.1 829.7" stroke="#000" stroke-width="1.0" fill="none"/>
<polyline points="720.8,926.8 744.6,950.6 731.9,963.4 779.0,1010.5 791.5,998.0 1064.5,1271.0 1052.0,1283.5 1107.4,1339.0" fill="none" stroke="#000" stroke-width="3.8" />
<path d="M723.6 929.6 L723.6 920.6 M725.4 931.4 L725.4 922.4 M727.3 933.3 L727.3 924.3 M736.3 942.3 L736.3 933.3 M738.1 944.1 L738.1 935.1 M740.0 946.0 L740.0 937.0" stroke="#000" stroke-width="1.0" fill="none"/>
<path d="M736.1 967.6 L736.1 958.6 M738.0 969.5 L738.0 960.5 M739.8 971.3 L739.8 962.3 M757.4 988.9 L757.4 979.9 M759.2 990.7 L759.2 981.7 M761.0 992.5 L761.0 983.5" stroke="#000" stroke-width="1.0" fill="none"/>
<path d="M798.6 1005.1 L798.6 996.1 M800.4 1006.9 L800.4 997.9 M802.2 1008.7 L802.2 999.7 M821.9 1028.4 L821.9 1019.4 M823.7 1030.2 L823.7 1021.2 M825.6 1032.1 L825.6 1023.1 M845.2 1051.7 L845.2 1042.7 M847.1 1053.6 L847.1 1044.6 M848.9 1055.4 L848.9 1046.4 M868.6 1075.1 L868.6 1066.1 M870.4 1076.9 L870.4 1067.9 M872.3 1078.8 L872.3 1069.8 M891.9 1098.4 L891.9 1089.4 M893.7 1100.2 L893.7 1091.2 M895.6 1102.1 L895.6 1093.1 M915.2 1121.7 L915.2 1112.7 M917.1 1123.6 L917.1 1114.6 M918.9 1125.4 L918.9 1116.4 M938.6 1145.1 L938.6 1136.1 M940.4 1146.9 L940.4 1137.9 M942.3 1148.8 L942.3 1139.8 M961.9 1168.4 L961.9 1159.4 M963.8 1170.3 L963.8 1161.3 M965.6 1172.1 L965.6 1163.1 M985.2 1191.7 L985.2 1182.7 M987.1 1193.6 L987.1 1184.6 M988.9 1195.4 L988.9 1186.4 M1008.6 1215.1 L1008.6 1206.1 M1010.4 1216.9 L1010.4 1207.9 M1012.3 1218.8 L1012.3 1209.8 M1031.9 1238.4 L1031.9 1229.4 M1033.8 1240.3 L1033.8 1231.3 M1035.6 1242.1 L1035.6 1233.1 M1055.3 1261.8 L1055.3 1252.8 M1057.1 1263.6 L1057.1 1254.6 M1058.9 1265.4 L1058.9 1256.4" stroke="#000" stroke-width="1.0" fill="none"/>
<path d="M1057.6 1289.2 L1057.6 1280.2 M1059.4 1291.0 L1059.4 1282.0 M1061.3 1292.9 L1061.3 1283.9 M1078.8 1310.4 L1078.8 1301.4 M1080.7 1312.3 L1080.7 1303.3 M1082.5 1314.1 L1082.5 1305.1 M1100.0 1331.6 L1100.0 1322.6 M1101.9 1333.5 L1101.9 1324.5 M1103.7 1335.3 L1103.7 1326.3" stroke="#000" stroke-width="1.0" fill="none"/>
<rect x="1260.3" y="232.0" width="80.8" height="80.8" fill="url(#pCol)" stroke="#000" stroke-width="3.8" />
<rect x="2229.5" y="233.5" width="80.5" height="80.5" fill="url(#pCol)" stroke="#000" stroke-width="3.8" />
<rect x="284.8" y="1202.5" width="80.8" height="80.8" fill="url(#pCol)" stroke="#000" stroke-width="3.8" />
<rect x="1260.3" y="1202.0" width="80.8" height="80.8" fill="url(#pCol)" stroke="#000" stroke-width="3.8" />
<rect x="2229.5" y="1202.0" width="80.5" height="80.5" fill="url(#pCol)" stroke="#000" stroke-width="3.8" />
<rect x="1260.3" y="1700.8" width="80.5" height="80.5" fill="url(#pCol)" stroke="#000" stroke-width="3.8" />
<line x1="1260.3" y1="305.1" x2="1260.3" y2="1202.0" stroke="#000" stroke-width="1.1" stroke-dasharray="28.8 13.4 1.5 13.4"/>
<line x1="1260.3" y1="1275.8" x2="1260.3" y2="1700.0" stroke="#000" stroke-width="1.1" stroke-dasharray="28.8 13.4 1.5 13.4"/>
<line x1="1341.4" y1="305.1" x2="1341.4" y2="1202.0" stroke="#000" stroke-width="1.1" stroke-dasharray="28.8 13.4 1.5 13.4"/>
<line x1="1341.4" y1="1275.8" x2="1341.4" y2="1700.0" stroke="#000" stroke-width="1.1" stroke-dasharray="28.8 13.4 1.5 13.4"/>
<line x1="365.4" y1="1202.1" x2="380.0" y2="1202.1" stroke="#000" stroke-width="1.1" />
<line x1="365.4" y1="1283.6" x2="380.0" y2="1283.6" stroke="#000" stroke-width="1.1" />
<line x1="377.7" y1="1202.1" x2="1215.0" y2="1202.1" stroke="#000" stroke-width="1.1" stroke-dasharray="28.8 13.4 1.5 13.4"/>
<line x1="377.7" y1="1283.6" x2="1259.0" y2="1283.6" stroke="#000" stroke-width="1.1" stroke-dasharray="28.8 13.4 1.5 13.4"/>
<line x1="1341.9" y1="1202.3" x2="2180.0" y2="1202.3" stroke="#000" stroke-width="1.6" stroke-dasharray="28.6 13.4 1.5 13.4"/>
<line x1="1341.9" y1="1283.6" x2="2167.0" y2="1283.6" stroke="#000" stroke-width="1.1" stroke-dasharray="28.6 13.4 1.5 13.4"/>
<line x1="1396.3" y1="218.8" x2="2282.6" y2="218.8" stroke="#5a5a5a" stroke-width="1" />
<line x1="1402.3" y1="211.6" x2="1402.3" y2="226.0" stroke="#5a5a5a" stroke-width="1" />
<line x1="1398.3" y1="222.8" x2="1406.3" y2="214.8" stroke="#5a5a5a" stroke-width="1" />
<line x1="1884.9" y1="211.6" x2="1884.9" y2="226.0" stroke="#5a5a5a" stroke-width="1" />
<line x1="1880.9" y1="222.8" x2="1888.9" y2="214.8" stroke="#5a5a5a" stroke-width="1" />
<line x1="1897.0" y1="211.6" x2="1897.0" y2="226.0" stroke="#5a5a5a" stroke-width="1" />
<line x1="1893.0" y1="222.8" x2="1901.0" y2="214.8" stroke="#5a5a5a" stroke-width="1" />
<line x1="2276.6" y1="211.6" x2="2276.6" y2="226.0" stroke="#5a5a5a" stroke-width="1" />
<line x1="2272.6" y1="222.8" x2="2280.6" y2="214.8" stroke="#5a5a5a" stroke-width="1" />
<text x="1630.7" y="214.9" font-size="21.5" text-anchor="middle" fill="#5a5a5a" >2 985</text>
<text x="1879.0" y="214.9" font-size="21.5" text-anchor="end" fill="#5a5a5a" >73</text>
<text x="2085.6" y="215.1" font-size="21.5" text-anchor="middle" fill="#5a5a5a" >2 350</text>
<line x1="1254.3" y1="470.6" x2="1891.0" y2="470.6" stroke="#5a5a5a" stroke-width="1" />
<line x1="1260.3" y1="463.4" x2="1260.3" y2="477.8" stroke="#5a5a5a" stroke-width="1" />
<line x1="1256.3" y1="474.6" x2="1264.3" y2="466.6" stroke="#5a5a5a" stroke-width="1" />
<line x1="1341.4" y1="463.4" x2="1341.4" y2="477.8" stroke="#5a5a5a" stroke-width="1" />
<line x1="1337.4" y1="474.6" x2="1345.4" y2="466.6" stroke="#5a5a5a" stroke-width="1" />
<line x1="1402.6" y1="463.4" x2="1402.6" y2="477.8" stroke="#5a5a5a" stroke-width="1" />
<line x1="1398.6" y1="474.6" x2="1406.6" y2="466.6" stroke="#5a5a5a" stroke-width="1" />
<line x1="1885.0" y1="463.4" x2="1885.0" y2="477.8" stroke="#5a5a5a" stroke-width="1" />
<line x1="1881.0" y1="474.6" x2="1889.0" y2="466.6" stroke="#5a5a5a" stroke-width="1" />
<text x="1299.6" y="466.7" font-size="21.5" text-anchor="middle" fill="#5a5a5a" >500</text>
<text x="1371.0" y="466.7" font-size="21.5" text-anchor="middle" fill="#5a5a5a" >380</text>
<text x="1642.8" y="466.8" font-size="21.5" text-anchor="middle" fill="#5a5a5a" >2 985</text>
<line x1="1550.4" y1="302.7" x2="1550.4" y2="746.7" stroke="#5a5a5a" stroke-width="1" />
<line x1="1557.6" y1="308.7" x2="1543.2" y2="308.7" stroke="#5a5a5a" stroke-width="1" />
<line x1="1546.4" y1="304.7" x2="1554.4" y2="312.7" stroke="#5a5a5a" stroke-width="1" />
<line x1="1557.6" y1="740.7" x2="1543.2" y2="740.7" stroke="#5a5a5a" stroke-width="1" />
<line x1="1546.4" y1="736.7" x2="1554.4" y2="744.7" stroke="#5a5a5a" stroke-width="1" />
<text transform="translate(1546.5,525.0) rotate(-90)" font-size="21.5" text-anchor="middle" fill="#5a5a5a" >2 675</text>
<line x1="1729.7" y1="302.7" x2="1729.7" y2="1211.0" stroke="#5a5a5a" stroke-width="1" />
<line x1="1736.9" y1="308.7" x2="1722.5" y2="308.7" stroke="#5a5a5a" stroke-width="1" />
<line x1="1725.7" y1="304.7" x2="1733.7" y2="312.7" stroke="#5a5a5a" stroke-width="1" />
<line x1="1736.9" y1="340.5" x2="1722.5" y2="340.5" stroke="#5a5a5a" stroke-width="1" />
<line x1="1725.7" y1="336.5" x2="1733.7" y2="344.5" stroke="#5a5a5a" stroke-width="1" />
<line x1="1736.9" y1="1032.0" x2="1722.5" y2="1032.0" stroke="#5a5a5a" stroke-width="1" />
<line x1="1725.7" y1="1028.0" x2="1733.7" y2="1036.0" stroke="#5a5a5a" stroke-width="1" />
<line x1="1736.9" y1="1205.0" x2="1722.5" y2="1205.0" stroke="#5a5a5a" stroke-width="1" />
<line x1="1725.7" y1="1201.0" x2="1733.7" y2="1209.0" stroke="#5a5a5a" stroke-width="1" />
<text transform="translate(1725.0,364.0) rotate(-90)" font-size="21.5" text-anchor="middle" fill="#5a5a5a" >200</text>
<text transform="translate(1725.1,971.4) rotate(-90)" font-size="21.5" text-anchor="middle" fill="#5a5a5a" >4 280</text>
<text transform="translate(1725.1,1117.4) rotate(-90)" font-size="21.5" text-anchor="middle" fill="#5a5a5a" >1 050</text>
<line x1="1762.4" y1="302.7" x2="1762.4" y2="651.1" stroke="#5a5a5a" stroke-width="1" />
<line x1="1769.6" y1="308.7" x2="1755.2" y2="308.7" stroke="#5a5a5a" stroke-width="1" />
<line x1="1758.4" y1="304.7" x2="1766.4" y2="312.7" stroke="#5a5a5a" stroke-width="1" />
<line x1="1769.6" y1="645.1" x2="1755.2" y2="645.1" stroke="#5a5a5a" stroke-width="1" />
<line x1="1758.4" y1="641.1" x2="1766.4" y2="649.1" stroke="#5a5a5a" stroke-width="1" />
<text transform="translate(1758.4,476.7) rotate(-90)" font-size="21.5" text-anchor="middle" fill="#5a5a5a" >2 070</text>
<line x1="1783.6" y1="520.6" x2="1890.5" y2="520.6" stroke="#5a5a5a" stroke-width="1" />
<line x1="1789.6" y1="513.4" x2="1789.6" y2="527.8" stroke="#5a5a5a" stroke-width="1" />
<line x1="1785.6" y1="524.6" x2="1793.6" y2="516.6" stroke="#5a5a5a" stroke-width="1" />
<line x1="1884.5" y1="513.4" x2="1884.5" y2="527.8" stroke="#5a5a5a" stroke-width="1" />
<line x1="1880.5" y1="524.6" x2="1888.5" y2="516.6" stroke="#5a5a5a" stroke-width="1" />
<text x="1836.5" y="516.7" font-size="21.5" text-anchor="middle" fill="#5a5a5a" >575</text>
<line x1="1639.5" y1="786.7" x2="1891.0" y2="786.7" stroke="#5a5a5a" stroke-width="1" />
<line x1="1645.5" y1="779.5" x2="1645.5" y2="793.9" stroke="#5a5a5a" stroke-width="1" />
<line x1="1641.5" y1="790.7" x2="1649.5" y2="782.7" stroke="#5a5a5a" stroke-width="1" />
<line x1="1885.0" y1="779.5" x2="1885.0" y2="793.9" stroke="#5a5a5a" stroke-width="1" />
<line x1="1881.0" y1="790.7" x2="1889.0" y2="782.7" stroke="#5a5a5a" stroke-width="1" />
<text x="1764.5" y="782.9" font-size="21.5" text-anchor="middle" fill="#5a5a5a" >1 475</text>
<line x1="1766.7" y1="1057.4" x2="1891.0" y2="1057.4" stroke="#5a5a5a" stroke-width="1" />
<line x1="1772.7" y1="1050.2" x2="1772.7" y2="1064.6" stroke="#5a5a5a" stroke-width="1" />
<line x1="1768.7" y1="1061.4" x2="1776.7" y2="1053.4" stroke="#5a5a5a" stroke-width="1" />
<line x1="1885.0" y1="1050.2" x2="1885.0" y2="1064.6" stroke="#5a5a5a" stroke-width="1" />
<line x1="1881.0" y1="1061.4" x2="1889.0" y2="1053.4" stroke="#5a5a5a" stroke-width="1" />
<text x="1827.5" y="1053.6" font-size="21.5" text-anchor="middle" fill="#5a5a5a" >695</text>
<line x1="1645.6" y1="735.0" x2="1645.6" y2="747.0" stroke="#000" stroke-width="1" />
<line x1="1642.2" y1="744.4" x2="1649.0" y2="737.6" stroke="#000" stroke-width="1" />
<text x="1437.5" y="566.7" font-size="21.5" text-anchor="start" fill="#000" >R 1 150</text>
<line x1="1437.5" y1="570.6" x2="1522.3" y2="570.6" stroke="#000" stroke-width="1" />
<line x1="1522.3" y1="570.6" x2="1745.1" y2="880.2" stroke="#000" stroke-width="1" />
<polygon points="1753.0,891.2 1739.7,879.9 1746.5,874.9" fill="#000" stroke="none" stroke-width="0" />
<text x="1825.0" y="581.9" font-size="21.5" text-anchor="start" fill="#5a5a5a" >R 2 405</text>
<line x1="1825.0" y1="588.1" x2="1901.3" y2="588.1" stroke="#5a5a5a" stroke-width="1" />
<line x1="1825.0" y1="588.1" x2="1599.8" y2="965.8" stroke="#5a5a5a" stroke-width="1" />
<polygon points="1592.8,977.5 1597.9,960.7 1605.1,965.0" fill="#5a5a5a" stroke="none" stroke-width="0" />
<line x1="1784.0" y1="645.1" x2="1796.0" y2="645.1" stroke="#3a8fd8" stroke-width="1" />
<line x1="1790.2" y1="639.0" x2="1790.2" y2="651.0" stroke="#3a8fd8" stroke-width="1" />
<text x="1901.3" y="489.5" font-size="21.5" text-anchor="start" fill="#5a5a5a" >R 2 155</text>
<line x1="1901.3" y1="494.3" x2="1986.4" y2="494.3" stroke="#5a5a5a" stroke-width="1" />
<line x1="1986.4" y1="494.3" x2="2010.3" y2="440.7" stroke="#5a5a5a" stroke-width="1" />
<polygon points="2015.8,428.3 2012.7,445.5 2005.0,442.1" fill="#5a5a5a" stroke="none" stroke-width="0" />
<line x1="1891.0" y1="540.3" x2="2168.8" y2="540.3" stroke="#5a5a5a" stroke-width="1" />
<line x1="1897.0" y1="533.1" x2="1897.0" y2="547.5" stroke="#5a5a5a" stroke-width="1" />
<line x1="1893.0" y1="544.3" x2="1901.0" y2="536.3" stroke="#5a5a5a" stroke-width="1" />
<line x1="2162.8" y1="533.1" x2="2162.8" y2="547.5" stroke="#5a5a5a" stroke-width="1" />
<line x1="2158.8" y1="544.3" x2="2166.8" y2="536.3" stroke="#5a5a5a" stroke-width="1" />
<text x="2029.4" y="536.4" font-size="21.5" text-anchor="middle" fill="#5a5a5a" >1 650</text>
<line x1="2152.2" y1="315.0" x2="2152.2" y2="1026.2" stroke="#5a5a5a" stroke-width="1" />
<line x1="2159.4" y1="321.0" x2="2145.0" y2="321.0" stroke="#5a5a5a" stroke-width="1" />
<line x1="2148.2" y1="317.0" x2="2156.2" y2="325.0" stroke="#5a5a5a" stroke-width="1" />
<line x1="2159.4" y1="458.8" x2="2145.0" y2="458.8" stroke="#5a5a5a" stroke-width="1" />
<line x1="2148.2" y1="454.8" x2="2156.2" y2="462.8" stroke="#5a5a5a" stroke-width="1" />
<line x1="2159.4" y1="825.2" x2="2145.0" y2="825.2" stroke="#5a5a5a" stroke-width="1" />
<line x1="2148.2" y1="821.2" x2="2156.2" y2="829.2" stroke="#5a5a5a" stroke-width="1" />
<line x1="2159.4" y1="838.2" x2="2145.0" y2="838.2" stroke="#5a5a5a" stroke-width="1" />
<line x1="2148.2" y1="834.2" x2="2156.2" y2="842.2" stroke="#5a5a5a" stroke-width="1" />
<line x1="2159.4" y1="1020.2" x2="2145.0" y2="1020.2" stroke="#5a5a5a" stroke-width="1" />
<line x1="2148.2" y1="1016.2" x2="2156.2" y2="1024.2" stroke="#5a5a5a" stroke-width="1" />
<text transform="translate(2148.2,389.1) rotate(-90)" font-size="21.5" text-anchor="middle" fill="#5a5a5a" >850</text>
<text transform="translate(2148.2,643.0) rotate(-90)" font-size="21.5" text-anchor="middle" fill="#5a5a5a" >2 275</text>
<text transform="translate(2148.2,854.9) rotate(-90)" font-size="21.5" text-anchor="middle" fill="#5a5a5a" >73</text>
<text transform="translate(2148.2,941.2) rotate(-90)" font-size="21.5" text-anchor="middle" fill="#5a5a5a" >1 130</text>
<line x1="1890.9" y1="885.1" x2="2282.3" y2="885.1" stroke="#5a5a5a" stroke-width="1" />
<line x1="1896.9" y1="877.9" x2="1896.9" y2="892.3" stroke="#5a5a5a" stroke-width="1" />
<line x1="1892.9" y1="889.1" x2="1900.9" y2="881.1" stroke="#5a5a5a" stroke-width="1" />
<line x1="2276.3" y1="877.9" x2="2276.3" y2="892.3" stroke="#5a5a5a" stroke-width="1" />
<line x1="2272.3" y1="889.1" x2="2280.3" y2="881.1" stroke="#5a5a5a" stroke-width="1" />
<text x="2085.6" y="882.2" font-size="21.5" text-anchor="middle" fill="#5a5a5a" >2 350</text>
<line x1="1408.8" y1="1398.3" x2="2282.3" y2="1398.3" stroke="#5a5a5a" stroke-width="1" />
<line x1="1414.8" y1="1391.1" x2="1414.8" y2="1405.5" stroke="#5a5a5a" stroke-width="1" />
<line x1="1410.8" y1="1402.3" x2="1418.8" y2="1394.3" stroke="#5a5a5a" stroke-width="1" />
<line x1="1454.2" y1="1391.1" x2="1454.2" y2="1405.5" stroke="#5a5a5a" stroke-width="1" />
<line x1="1450.2" y1="1402.3" x2="1458.2" y2="1394.3" stroke="#5a5a5a" stroke-width="1" />
<line x1="1492.9" y1="1391.1" x2="1492.9" y2="1405.5" stroke="#5a5a5a" stroke-width="1" />
<line x1="1488.9" y1="1402.3" x2="1496.9" y2="1394.3" stroke="#5a5a5a" stroke-width="1" />
<line x1="1605.5" y1="1391.1" x2="1605.5" y2="1405.5" stroke="#5a5a5a" stroke-width="1" />
<line x1="1601.5" y1="1402.3" x2="1609.5" y2="1394.3" stroke="#5a5a5a" stroke-width="1" />
<line x1="1702.4" y1="1391.1" x2="1702.4" y2="1405.5" stroke="#5a5a5a" stroke-width="1" />
<line x1="1698.4" y1="1402.3" x2="1706.4" y2="1394.3" stroke="#5a5a5a" stroke-width="1" />
<line x1="1766.9" y1="1391.1" x2="1766.9" y2="1405.5" stroke="#5a5a5a" stroke-width="1" />
<line x1="1762.9" y1="1402.3" x2="1770.9" y2="1394.3" stroke="#5a5a5a" stroke-width="1" />
<line x1="1864.4" y1="1391.1" x2="1864.4" y2="1405.5" stroke="#5a5a5a" stroke-width="1" />
<line x1="1860.4" y1="1402.3" x2="1868.4" y2="1394.3" stroke="#5a5a5a" stroke-width="1" />
<line x1="1928.6" y1="1391.1" x2="1928.6" y2="1405.5" stroke="#5a5a5a" stroke-width="1" />
<line x1="1924.6" y1="1402.3" x2="1932.6" y2="1394.3" stroke="#5a5a5a" stroke-width="1" />
<line x1="2025.8" y1="1391.1" x2="2025.8" y2="1405.5" stroke="#5a5a5a" stroke-width="1" />
<line x1="2021.8" y1="1402.3" x2="2029.8" y2="1394.3" stroke="#5a5a5a" stroke-width="1" />
<line x1="2139.1" y1="1391.1" x2="2139.1" y2="1405.5" stroke="#5a5a5a" stroke-width="1" />
<line x1="2135.1" y1="1402.3" x2="2143.1" y2="1394.3" stroke="#5a5a5a" stroke-width="1" />
<line x1="2178.5" y1="1391.1" x2="2178.5" y2="1405.5" stroke="#5a5a5a" stroke-width="1" />
<line x1="2174.5" y1="1402.3" x2="2182.5" y2="1394.3" stroke="#5a5a5a" stroke-width="1" />
<line x1="2276.3" y1="1391.1" x2="2276.3" y2="1405.5" stroke="#5a5a5a" stroke-width="1" />
<line x1="2272.3" y1="1402.3" x2="2280.3" y2="1394.3" stroke="#5a5a5a" stroke-width="1" />
<text x="1411.0" y="1393.0" font-size="21.5" text-anchor="end" fill="#5a5a5a" >240</text>
<text x="1455.7" y="1375.7" font-size="21.5" text-anchor="start" fill="#5a5a5a" >240</text>
<text x="1548.9" y="1393.0" font-size="21.5" text-anchor="middle" fill="#5a5a5a" >700</text>
<text x="1654.0" y="1393.0" font-size="21.5" text-anchor="middle" fill="#5a5a5a" >600</text>
<text x="1734.2" y="1393.0" font-size="21.5" text-anchor="middle" fill="#5a5a5a" >400</text>
<text x="1815.0" y="1393.0" font-size="21.5" text-anchor="middle" fill="#5a5a5a" >600</text>
<text x="1895.6" y="1393.0" font-size="21.5" text-anchor="middle" fill="#5a5a5a" >400</text>
<text x="1976.4" y="1393.0" font-size="21.5" text-anchor="middle" fill="#5a5a5a" >600</text>
<text x="2082.5" y="1393.0" font-size="21.5" text-anchor="middle" fill="#5a5a5a" >700</text>
<text x="2200.6" y="1393.0" font-size="21.5" text-anchor="middle" fill="#5a5a5a" >250</text>
<text x="2280.8" y="1393.0" font-size="21.5" text-anchor="start" fill="#5a5a5a" >600</text>
<line x1="1904.7" y1="1277.6" x2="1904.7" y2="1604.2" stroke="#5a5a5a" stroke-width="1" />
<line x1="1911.9" y1="1283.6" x2="1897.5" y2="1283.6" stroke="#5a5a5a" stroke-width="1" />
<line x1="1900.7" y1="1279.6" x2="1908.7" y2="1287.6" stroke="#5a5a5a" stroke-width="1" />
<line x1="1911.9" y1="1291.2" x2="1897.5" y2="1291.2" stroke="#5a5a5a" stroke-width="1" />
<line x1="1900.7" y1="1287.2" x2="1908.7" y2="1295.2" stroke="#5a5a5a" stroke-width="1" />
<line x1="1911.9" y1="1347.5" x2="1897.5" y2="1347.5" stroke="#5a5a5a" stroke-width="1" />
<line x1="1900.7" y1="1343.5" x2="1908.7" y2="1351.5" stroke="#5a5a5a" stroke-width="1" />
<line x1="1911.9" y1="1541.3" x2="1897.5" y2="1541.3" stroke="#5a5a5a" stroke-width="1" />
<line x1="1900.7" y1="1537.3" x2="1908.7" y2="1545.3" stroke="#5a5a5a" stroke-width="1" />
<line x1="1911.9" y1="1598.2" x2="1897.5" y2="1598.2" stroke="#5a5a5a" stroke-width="1" />
<line x1="1900.7" y1="1594.2" x2="1908.7" y2="1602.2" stroke="#5a5a5a" stroke-width="1" />
<text transform="translate(1900.7,1267.2) rotate(-90)" font-size="21.5" text-anchor="middle" fill="#5a5a5a" >50</text>
<text transform="translate(1900.7,1320.0) rotate(-90)" font-size="21.5" text-anchor="middle" fill="#5a5a5a" >350</text>
<text transform="translate(1900.7,1472.6) rotate(-90)" font-size="21.5" text-anchor="middle" fill="#5a5a5a" >1 200</text>
<text transform="translate(1900.7,1569.5) rotate(-90)" font-size="21.5" text-anchor="middle" fill="#5a5a5a" >350</text>
<line x1="2083.4" y1="1200.0" x2="2083.4" y2="1680.0" stroke="#5a5a5a" stroke-width="1" />
<line x1="2090.6" y1="1206.0" x2="2076.2" y2="1206.0" stroke="#5a5a5a" stroke-width="1" />
<line x1="2079.4" y1="1202.0" x2="2087.4" y2="1210.0" stroke="#5a5a5a" stroke-width="1" />
<line x1="2090.6" y1="1291.2" x2="2076.2" y2="1291.2" stroke="#5a5a5a" stroke-width="1" />
<line x1="2079.4" y1="1287.2" x2="2087.4" y2="1295.2" stroke="#5a5a5a" stroke-width="1" />
<line x1="2090.6" y1="1598.2" x2="2076.2" y2="1598.2" stroke="#5a5a5a" stroke-width="1" />
<line x1="2079.4" y1="1594.2" x2="2087.4" y2="1602.2" stroke="#5a5a5a" stroke-width="1" />
<line x1="2090.6" y1="1645.5" x2="2076.2" y2="1645.5" stroke="#5a5a5a" stroke-width="1" />
<line x1="2079.4" y1="1641.5" x2="2087.4" y2="1649.5" stroke="#5a5a5a" stroke-width="1" />
<line x1="2090.6" y1="1674.0" x2="2076.2" y2="1674.0" stroke="#5a5a5a" stroke-width="1" />
<line x1="2079.4" y1="1670.0" x2="2087.4" y2="1678.0" stroke="#5a5a5a" stroke-width="1" />
<text transform="translate(2079.5,1248.8) rotate(-90)" font-size="21.5" text-anchor="middle" fill="#5a5a5a" >475</text>
<text transform="translate(2079.5,1458.4) rotate(-90)" font-size="21.5" text-anchor="middle" fill="#5a5a5a" >2 000</text>
<text transform="translate(2079.5,1621.9) rotate(-90)" font-size="21.5" text-anchor="middle" fill="#5a5a5a" >250</text>
<text transform="translate(2079.5,1696.0) rotate(-90)" font-size="21.5" text-anchor="middle" fill="#5a5a5a" >170</text>
<line x1="349.4" y1="1797.5" x2="1299.8" y2="1797.5" stroke="#000" stroke-width="1" />
<line x1="355.4" y1="1790.3" x2="355.4" y2="1804.7" stroke="#000" stroke-width="1" />
<line x1="351.4" y1="1801.5" x2="359.4" y2="1793.5" stroke="#000" stroke-width="1" />
<line x1="388.1" y1="1790.3" x2="388.1" y2="1804.7" stroke="#000" stroke-width="1" />
<line x1="384.1" y1="1801.5" x2="392.1" y2="1793.5" stroke="#000" stroke-width="1" />
<line x1="583.9" y1="1790.3" x2="583.9" y2="1804.7" stroke="#000" stroke-width="1" />
<line x1="579.9" y1="1801.5" x2="587.9" y2="1793.5" stroke="#000" stroke-width="1" />
<line x1="857.9" y1="1790.3" x2="857.9" y2="1804.7" stroke="#000" stroke-width="1" />
<line x1="853.9" y1="1801.5" x2="861.9" y2="1793.5" stroke="#000" stroke-width="1" />
<line x1="954.8" y1="1790.3" x2="954.8" y2="1804.7" stroke="#000" stroke-width="1" />
<line x1="950.8" y1="1801.5" x2="958.8" y2="1793.5" stroke="#000" stroke-width="1" />
<line x1="967.5" y1="1790.3" x2="967.5" y2="1804.7" stroke="#000" stroke-width="1" />
<line x1="963.5" y1="1801.5" x2="971.5" y2="1793.5" stroke="#000" stroke-width="1" />
<line x1="1293.8" y1="1790.3" x2="1293.8" y2="1804.7" stroke="#000" stroke-width="1" />
<line x1="1289.8" y1="1801.5" x2="1297.8" y2="1793.5" stroke="#000" stroke-width="1" />
<text x="349.3" y="1791.5" font-size="21.5" text-anchor="end" fill="#000" >200</text>
<text x="485.5" y="1791.5" font-size="21.5" text-anchor="middle" fill="#000" >1 215</text>
<text x="720.8" y="1791.5" font-size="21.5" text-anchor="middle" fill="#000" >1 700</text>
<text x="905.6" y="1791.5" font-size="21.5" text-anchor="middle" fill="#000" >600</text>
<text x="1130.4" y="1791.5" font-size="21.5" text-anchor="middle" fill="#000" >2 025</text>
<line x1="1409.0" y1="1800.6" x2="2282.3" y2="1800.6" stroke="#000" stroke-width="1" />
<line x1="1415.0" y1="1793.4" x2="1415.0" y2="1807.8" stroke="#000" stroke-width="1" />
<line x1="1411.0" y1="1804.6" x2="1419.0" y2="1796.6" stroke="#000" stroke-width="1" />
<line x1="1454.0" y1="1793.4" x2="1454.0" y2="1807.8" stroke="#000" stroke-width="1" />
<line x1="1450.0" y1="1804.6" x2="1458.0" y2="1796.6" stroke="#000" stroke-width="1" />
<line x1="1492.8" y1="1793.4" x2="1492.8" y2="1807.8" stroke="#000" stroke-width="1" />
<line x1="1488.8" y1="1804.6" x2="1496.8" y2="1796.6" stroke="#000" stroke-width="1" />
<line x1="2139.1" y1="1793.4" x2="2139.1" y2="1807.8" stroke="#000" stroke-width="1" />
<line x1="2135.1" y1="1804.6" x2="2143.1" y2="1796.6" stroke="#000" stroke-width="1" />
<line x1="2179.4" y1="1793.4" x2="2179.4" y2="1807.8" stroke="#000" stroke-width="1" />
<line x1="2175.4" y1="1804.6" x2="2183.4" y2="1796.6" stroke="#000" stroke-width="1" />
<line x1="2276.3" y1="1793.4" x2="2276.3" y2="1807.8" stroke="#000" stroke-width="1" />
<line x1="2272.3" y1="1804.6" x2="2280.3" y2="1796.6" stroke="#000" stroke-width="1" />
<text x="1409.5" y="1795.0" font-size="21.5" text-anchor="end" fill="#000" >240</text>
<text x="1497.3" y="1795.0" font-size="21.5" text-anchor="start" fill="#000" >240</text>
<text x="1816.0" y="1795.0" font-size="21.5" text-anchor="middle" fill="#000" >4 000</text>
<text x="2133.4" y="1795.0" font-size="21.5" text-anchor="end" fill="#000" >250</text>
<text x="2226.9" y="1795.0" font-size="21.5" text-anchor="middle" fill="#000" >600</text>
<line x1="347.9" y1="1345.0" x2="559.1" y2="1345.0" stroke="#000" stroke-width="1" />
<line x1="353.9" y1="1337.8" x2="353.9" y2="1352.2" stroke="#000" stroke-width="1" />
<line x1="349.9" y1="1349.0" x2="357.9" y2="1341.0" stroke="#000" stroke-width="1" />
<line x1="553.1" y1="1337.8" x2="553.1" y2="1352.2" stroke="#000" stroke-width="1" />
<line x1="549.1" y1="1349.0" x2="557.1" y2="1341.0" stroke="#000" stroke-width="1" />
<text x="453.8" y="1342.1" font-size="21.5" text-anchor="middle" fill="#000" >1 220</text>
<line x1="347.9" y1="1542.2" x2="711.0" y2="1542.2" stroke="#000" stroke-width="1" />
<line x1="353.9" y1="1535.0" x2="353.9" y2="1549.4" stroke="#000" stroke-width="1" />
<line x1="349.9" y1="1546.2" x2="357.9" y2="1538.2" stroke="#000" stroke-width="1" />
<line x1="705.0" y1="1535.0" x2="705.0" y2="1549.4" stroke="#000" stroke-width="1" />
<line x1="701.0" y1="1546.2" x2="709.0" y2="1538.2" stroke="#000" stroke-width="1" />
<text x="649.0" y="1539.0" font-size="21.5" text-anchor="middle" fill="#000" >2 155</text>
<line x1="349.4" y1="1599.2" x2="394.1" y2="1599.2" stroke="#000" stroke-width="1" />
<line x1="355.4" y1="1592.0" x2="355.4" y2="1606.4" stroke="#000" stroke-width="1" />
<line x1="351.4" y1="1603.2" x2="359.4" y2="1595.2" stroke="#000" stroke-width="1" />
<line x1="388.1" y1="1592.0" x2="388.1" y2="1606.4" stroke="#000" stroke-width="1" />
<line x1="384.1" y1="1603.2" x2="392.1" y2="1595.2" stroke="#000" stroke-width="1" />
<text x="349.3" y="1594.4" font-size="21.5" text-anchor="end" fill="#000" >200</text>
<line x1="514.3" y1="1352.0" x2="514.3" y2="1697.2" stroke="#000" stroke-width="1" />
<line x1="521.5" y1="1358.0" x2="507.1" y2="1358.0" stroke="#000" stroke-width="1" />
<line x1="510.3" y1="1354.0" x2="518.3" y2="1362.0" stroke="#000" stroke-width="1" />
<line x1="521.5" y1="1691.2" x2="507.1" y2="1691.2" stroke="#000" stroke-width="1" />
<line x1="510.3" y1="1687.2" x2="518.3" y2="1695.2" stroke="#000" stroke-width="1" />
<text transform="translate(509.8,1449.0) rotate(-90)" font-size="21.5" text-anchor="middle" fill="#000" >2 070</text>
<line x1="749.6" y1="1508.1" x2="749.6" y2="1697.2" stroke="#000" stroke-width="1" />
<line x1="756.8" y1="1514.1" x2="742.4" y2="1514.1" stroke="#000" stroke-width="1" />
<line x1="745.6" y1="1510.1" x2="753.6" y2="1518.1" stroke="#000" stroke-width="1" />
<line x1="756.8" y1="1691.2" x2="742.4" y2="1691.2" stroke="#000" stroke-width="1" />
<line x1="745.6" y1="1687.2" x2="753.6" y2="1695.2" stroke="#000" stroke-width="1" />
<text transform="translate(745.3,1603.4) rotate(-90)" font-size="21.5" text-anchor="middle" fill="#000" >1 090</text>
<line x1="572.7" y1="1661.0" x2="572.7" y2="1697.2" stroke="#000" stroke-width="1" />
<line x1="579.9" y1="1667.0" x2="565.5" y2="1667.0" stroke="#000" stroke-width="1" />
<line x1="568.7" y1="1663.0" x2="576.7" y2="1671.0" stroke="#000" stroke-width="1" />
<line x1="579.9" y1="1691.2" x2="565.5" y2="1691.2" stroke="#000" stroke-width="1" />
<line x1="568.7" y1="1687.2" x2="576.7" y2="1695.2" stroke="#000" stroke-width="1" />
<text transform="translate(568.8,1713.9) rotate(-90)" font-size="21.5" text-anchor="middle" fill="#000" >150</text>
<line x1="1229.4" y1="1285.0" x2="1229.4" y2="1698.1" stroke="#000" stroke-width="1" />
<line x1="1236.6" y1="1291.0" x2="1222.2" y2="1291.0" stroke="#000" stroke-width="1" />
<line x1="1225.4" y1="1287.0" x2="1233.4" y2="1295.0" stroke="#000" stroke-width="1" />
<line x1="1236.6" y1="1692.1" x2="1222.2" y2="1692.1" stroke="#000" stroke-width="1" />
<line x1="1225.4" y1="1688.1" x2="1233.4" y2="1696.1" stroke="#000" stroke-width="1" />
<text transform="translate(1225.5,1491.3) rotate(-90)" font-size="21.5" text-anchor="middle" fill="#000" >2 480</text>
<line x1="1115.0" y1="1079.2" x2="1266.3" y2="1079.2" stroke="#5a5a5a" stroke-width="1" />
<line x1="1121.0" y1="1072.0" x2="1121.0" y2="1086.4" stroke="#5a5a5a" stroke-width="1" />
<line x1="1117.0" y1="1083.2" x2="1125.0" y2="1075.2" stroke="#5a5a5a" stroke-width="1" />
<line x1="1260.3" y1="1072.0" x2="1260.3" y2="1086.4" stroke="#5a5a5a" stroke-width="1" />
<line x1="1256.3" y1="1083.2" x2="1264.3" y2="1075.2" stroke="#5a5a5a" stroke-width="1" />
<text x="1189.7" y="1075.7" font-size="21.5" text-anchor="middle" fill="#5a5a5a" >860</text>
<line x1="553.1" y1="1353.7" x2="553.1" y2="1365.7" stroke="#000" stroke-width="1" />
<line x1="549.7" y1="1363.1" x2="556.5" y2="1356.3" stroke="#000" stroke-width="1" />
<line x1="705.0" y1="1508.1" x2="705.0" y2="1520.1" stroke="#000" stroke-width="1" />
<line x1="701.6" y1="1517.5" x2="708.4" y2="1510.7" stroke="#000" stroke-width="1" />
<line x1="1121.0" y1="1095.3" x2="1121.0" y2="1107.3" stroke="#000" stroke-width="1" />
<line x1="1117.6" y1="1104.7" x2="1124.4" y2="1097.9" stroke="#000" stroke-width="1" />
<line x1="965.0" y1="935.0" x2="965.0" y2="947.0" stroke="#000" stroke-width="1" />
<line x1="961.6" y1="944.4" x2="968.4" y2="937.6" stroke="#000" stroke-width="1" />
<line x1="991.9" y1="978.9" x2="1228.4" y2="742.4" stroke="#000" stroke-width="1" />
<line x1="990.8" y1="969.8" x2="1001.0" y2="980.0" stroke="#000" stroke-width="1" />
<line x1="995.9" y1="980.6" x2="995.9" y2="969.2" stroke="#000" stroke-width="1" />
<line x1="1219.3" y1="741.3" x2="1229.5" y2="751.5" stroke="#000" stroke-width="1" />
<line x1="1224.4" y1="752.1" x2="1224.4" y2="740.7" stroke="#000" stroke-width="1" />
<text transform="translate(1102.8,854.9) rotate(-45)" font-size="21.5" text-anchor="middle" fill="#000" dy="7.6">2000</text>
<line x1="594.8" y1="1528.8" x2="1304.2" y2="819.2" stroke="#000" stroke-width="1" />
<line x1="593.7" y1="1519.7" x2="603.8" y2="1529.8" stroke="#000" stroke-width="1" />
<line x1="598.8" y1="1530.5" x2="598.8" y2="1519.0" stroke="#000" stroke-width="1" />
<line x1="1124.2" y1="989.2" x2="1134.3" y2="999.3" stroke="#000" stroke-width="1" />
<line x1="1129.2" y1="1000.0" x2="1129.2" y2="988.5" stroke="#000" stroke-width="1" />
<line x1="1277.2" y1="836.2" x2="1287.3" y2="846.3" stroke="#000" stroke-width="1" />
<line x1="1282.2" y1="847.0" x2="1282.2" y2="835.5" stroke="#000" stroke-width="1" />
<line x1="1295.2" y1="818.2" x2="1305.3" y2="828.3" stroke="#000" stroke-width="1" />
<line x1="1300.2" y1="829.0" x2="1300.2" y2="817.5" stroke="#000" stroke-width="1" />
<text transform="translate(1198.2,907.8) rotate(-45)" font-size="21.5" text-anchor="middle" fill="#000" dy="7.6">1 350</text>
<text transform="translate(854.9,1252.7) rotate(-45)" font-size="21.5" text-anchor="middle" fill="#000" dy="7.6">4 650</text>
<text transform="translate(1308.7,795.8) rotate(-45)" font-size="21.5" text-anchor="middle" fill="#000" dy="7.6">150</text>
<line x1="1096.5" y1="1082.5" x2="1333.3" y2="845.7" stroke="#000" stroke-width="1" />
<line x1="1095.4" y1="1073.4" x2="1105.6" y2="1083.6" stroke="#000" stroke-width="1" />
<line x1="1100.5" y1="1084.2" x2="1100.5" y2="1072.8" stroke="#000" stroke-width="1" />
<line x1="1324.2" y1="844.6" x2="1334.4" y2="854.8" stroke="#000" stroke-width="1" />
<line x1="1329.3" y1="855.4" x2="1329.3" y2="844.0" stroke="#000" stroke-width="1" />
<text transform="translate(1205.8,959.3) rotate(-45)" font-size="21.5" text-anchor="middle" fill="#000" dy="7.6">2000</text>
<line x1="863.2" y1="774.2" x2="1000.0" y2="911.0" stroke="#000" stroke-width="1" />
<line x1="872.3" y1="773.2" x2="862.2" y2="783.3" stroke="#000" stroke-width="1" />
<line x1="861.5" y1="778.2" x2="873.0" y2="778.2" stroke="#000" stroke-width="1" />
<line x1="1001.1" y1="901.9" x2="990.9" y2="912.1" stroke="#000" stroke-width="1" />
<line x1="990.3" y1="907.0" x2="1001.7" y2="907.0" stroke="#000" stroke-width="1" />
<text transform="translate(939.4,836.7) rotate(45)" font-size="21.5" text-anchor="middle" fill="#000" dy="7.6">1 120</text>
<line x1="663.8" y1="974.8" x2="1072.0" y2="1383.0" stroke="#000" stroke-width="1" />
<line x1="672.8" y1="973.7" x2="662.7" y2="983.8" stroke="#000" stroke-width="1" />
<line x1="662.0" y1="978.8" x2="673.5" y2="978.8" stroke="#000" stroke-width="1" />
<line x1="697.2" y1="998.1" x2="687.1" y2="1008.2" stroke="#000" stroke-width="1" />
<line x1="686.4" y1="1003.1" x2="697.9" y2="1003.1" stroke="#000" stroke-width="1" />
<line x1="744.3" y1="1045.2" x2="734.2" y2="1055.3" stroke="#000" stroke-width="1" />
<line x1="733.5" y1="1050.2" x2="745.0" y2="1050.2" stroke="#000" stroke-width="1" />
<line x1="1017.3" y1="1318.2" x2="1007.2" y2="1328.3" stroke="#000" stroke-width="1" />
<line x1="1006.5" y1="1323.2" x2="1018.0" y2="1323.2" stroke="#000" stroke-width="1" />
<line x1="1073.1" y1="1373.9" x2="1062.9" y2="1384.1" stroke="#000" stroke-width="1" />
<line x1="1062.3" y1="1379.0" x2="1073.7" y2="1379.0" stroke="#000" stroke-width="1" />
<text transform="translate(656.6,957.5) rotate(45)" font-size="21.5" text-anchor="middle" fill="#000" dy="7.6">200</text>
<text transform="translate(723.2,1018.7) rotate(45)" font-size="21.5" text-anchor="middle" fill="#000" dy="7.6">415</text>
<text transform="translate(841.3,1128.6) rotate(45)" font-size="21.5" text-anchor="middle" fill="#000" dy="7.6">2 390</text>
<text transform="translate(1048.4,1343.5) rotate(45)" font-size="21.5" text-anchor="middle" fill="#000" dy="7.6">485</text>
<line x1="1096.0" y1="1119.0" x2="1209.5" y2="1232.5" stroke="#000" stroke-width="1" />
<line x1="1105.1" y1="1117.9" x2="1094.9" y2="1128.1" stroke="#000" stroke-width="1" />
<line x1="1094.3" y1="1123.0" x2="1105.7" y2="1123.0" stroke="#000" stroke-width="1" />
<line x1="1210.6" y1="1223.4" x2="1200.4" y2="1233.6" stroke="#000" stroke-width="1" />
<line x1="1199.8" y1="1228.5" x2="1211.2" y2="1228.5" stroke="#000" stroke-width="1" />
<text transform="translate(1160.4,1166.4) rotate(45)" font-size="21.5" text-anchor="middle" fill="#000" dy="7.6">925</text>
<text x="889.7" y="971.8" font-size="21.5" text-anchor="start" fill="#000" >R 500</text>
<line x1="889.7" y1="975.4" x2="956.6" y2="975.4" stroke="#000" stroke-width="1" />
<line x1="956.6" y1="975.4" x2="970.0" y2="876.8" stroke="#000" stroke-width="1" />
<polygon points="971.8,863.3 973.7,880.7 965.4,879.6" fill="#000" stroke="none" stroke-width="0" />
<text x="986.3" y="1064.2" font-size="21.5" text-anchor="start" fill="#000" >R 500</text>
<line x1="986.3" y1="1069.5" x2="1054.4" y2="1069.5" stroke="#000" stroke-width="1" />
<line x1="1054.4" y1="1069.5" x2="1180.8" y2="1128.8" stroke="#000" stroke-width="1" />
<polygon points="1193.1,1134.6 1175.9,1131.2 1179.5,1123.6" fill="#000" stroke="none" stroke-width="0" />
<text x="608.2" y="1376.0" font-size="21.5" text-anchor="start" fill="#000" >R 500</text>
<line x1="597.6" y1="1380.9" x2="666.0" y2="1380.9" stroke="#000" stroke-width="1" />
<line x1="597.6" y1="1380.9" x2="488.7" y2="1326.8" stroke="#000" stroke-width="1" />
<polygon points="476.5,1320.8 493.6,1324.6 489.9,1332.1" fill="#000" stroke="none" stroke-width="0" />
<text x="635.4" y="1457.3" font-size="21.5" text-anchor="start" fill="#000" >R 500</text>
<line x1="635.4" y1="1462.6" x2="700.5" y2="1462.6" stroke="#000" stroke-width="1" />
<line x1="700.5" y1="1462.6" x2="710.0" y2="1583.7" stroke="#000" stroke-width="1" />
<polygon points="711.1,1597.3 705.6,1580.7 714.0,1580.0" fill="#000" stroke="none" stroke-width="0" />
<rect x="1182.2" y="511.5" width="69.6" height="25.7" fill="none" stroke="#666" stroke-width="1" />
<text x="1217.0" y="531.1" font-size="21.5" text-anchor="middle" fill="#5a5a5a" >+2.530</text>
<rect x="1599.5" y="408.6" width="69.0" height="24.8" fill="none" stroke="#666" stroke-width="1" />
<text x="1634.0" y="427.3" font-size="21.5" text-anchor="middle" fill="#5a5a5a" >+2.610</text>
<rect x="1978.5" y="345.3" width="67.9" height="24.8" fill="none" stroke="#666" stroke-width="1" />
<text x="2012.5" y="364.0" font-size="21.5" text-anchor="middle" fill="#5a5a5a" >+2.530</text>
<rect x="2000.2" y="662.6" width="68.4" height="24.8" fill="none" stroke="#666" stroke-width="1" />
<text x="2034.4" y="681.3" font-size="21.5" text-anchor="middle" fill="#5a5a5a" >+2.610</text>
<rect x="2008.4" y="908.8" width="68.1" height="24.8" fill="none" stroke="#666" stroke-width="1" />
<text x="2042.5" y="927.5" font-size="21.5" text-anchor="middle" fill="#5a5a5a" >+2.530</text>
<rect x="1616.8" y="664.1" width="67.5" height="25.8" fill="none" stroke="#666" stroke-width="1" />
<text x="1650.5" y="683.8" font-size="21.5" text-anchor="middle" fill="#5a5a5a" >+2.690</text>
<rect x="1610.7" y="1093.8" width="67.5" height="25.1" fill="none" stroke="#666" stroke-width="1" />
<text x="1644.5" y="1112.8" font-size="21.5" text-anchor="middle" fill="#5a5a5a" >+2.530</text>
<rect x="1688.2" y="1235.5" width="68.1" height="24.8" fill="none" stroke="#666" stroke-width="1" />
<text x="1722.2" y="1254.2" font-size="21.5" text-anchor="middle" fill="#5a5a5a" >+2.530</text>
<rect x="1620.0" y="1474.7" width="68.5" height="25.4" fill="none" stroke="#666" stroke-width="1" />
<text x="1654.2" y="1494.0" font-size="21.5" text-anchor="middle" fill="#5a5a5a" >+2.660</text>
<rect x="1777.2" y="1460.5" width="68.4" height="25.7" fill="none" stroke="#666" stroke-width="1" />
<text x="1811.4" y="1480.1" font-size="21.5" text-anchor="middle" fill="#5a5a5a" >+2.660</text>
<rect x="1937.4" y="1451.4" width="68.1" height="25.7" fill="none" stroke="#666" stroke-width="1" />
<text x="1971.5" y="1471.0" font-size="21.5" text-anchor="middle" fill="#5a5a5a" >+2.660</text>
<rect x="1704.2" y="1564.9" width="68.5" height="25.4" fill="none" stroke="#666" stroke-width="1" />
<text x="1738.5" y="1584.2" font-size="21.5" text-anchor="middle" fill="#5a5a5a" >+2.610</text>
<rect x="1024.7" y="819.1" width="68.5" height="25.2" fill="none" stroke="#666" stroke-width="1" />
<text x="1059.0" y="838.2" font-size="21.5" text-anchor="middle" fill="#5a5a5a" >+2.530</text>
<rect x="1119.5" y="1534.0" width="68.1" height="25.2" fill="none" stroke="#666" stroke-width="1" />
<text x="1153.5" y="1553.1" font-size="21.5" text-anchor="middle" fill="#5a5a5a" >+2.530</text>
<rect x="906.7" y="1036.8" width="68.4" height="25.2" fill="#fff" stroke="#666" stroke-width="1" />
<text x="940.9" y="1055.9" font-size="21.5" text-anchor="middle" fill="#5a5a5a" >+2.580</text>
<text x="1611.6" y="366.0" font-size="21.5" text-anchor="start" fill="#5a5a5a" >+2,690</text>
<text x="1164.0" y="655.7" font-size="21.5" text-anchor="start" fill="#5a5a5a" >+2,130</text>
<text x="841.7" y="885.4" font-size="21.5" text-anchor="start" fill="#5a5a5a" >+2,610</text>
<text x="406.2" y="1486.0" font-size="21.5" text-anchor="start" fill="#5a5a5a" >+2,610</text>
<text x="814.6" y="1643.5" font-size="21.5" text-anchor="start" fill="#5a5a5a" >+2,130</text>
<text x="1461.1" y="1512.0" font-size="21.5" text-anchor="start" fill="#5a5a5a" >+2,130</text>
<text x="1620.1" y="1636.7" font-size="21.5" text-anchor="start" fill="#5a5a5a" >+2,130</text>
<rect x="1607.7" y="348.0" width="74.3" height="22.0" fill="none" stroke="#fff" stroke-width="1" />
<rect x="838.0" y="866.0" width="72.5" height="22.5" fill="none" stroke="#fff" stroke-width="1" />
<rect x="1490.5" y="1493.2" width="40.9" height="23.3" fill="none" stroke="#fff" stroke-width="1" />
<path d="M1593.4 328.3 L1593.4 312.8 A15.5 15.5 0 0 1 1608.9 328.3 Z M1593.4 328.3 L1593.4 343.8 A15.5 15.5 0 0 1 1577.9 328.3 Z" fill="#fff"/>
<circle cx="1593.4" cy="328.3" r="15.5" fill="none" stroke="#fff" stroke-width="0.8"/>
<line x1="1560.4" y1="328.3" x2="1626.4" y2="328.3" stroke="#fff" stroke-width="1" />
<line x1="1593.4" y1="296.3" x2="1593.4" y2="360.3" stroke="#fff" stroke-width="1" />
<path d="M1137.7 680.8 L1137.7 665.3 A15.5 15.5 0 0 1 1153.2 680.8 Z M1137.7 680.8 L1137.7 696.3 A15.5 15.5 0 0 1 1122.2 680.8 Z" fill="#fff"/>
<circle cx="1137.7" cy="680.8" r="15.5" fill="none" stroke="#fff" stroke-width="0.8"/>
<line x1="1104.7" y1="680.8" x2="1170.7" y2="680.8" stroke="#fff" stroke-width="1" />
<line x1="1137.7" y1="648.8" x2="1137.7" y2="712.8" stroke="#fff" stroke-width="1" />
<path d="M822.8 845.8 L822.8 830.3 A15.5 15.5 0 0 1 838.3 845.8 Z M822.8 845.8 L822.8 861.3 A15.5 15.5 0 0 1 807.3 845.8 Z" fill="#fff"/>
<circle cx="822.8" cy="845.8" r="15.5" fill="none" stroke="#fff" stroke-width="0.8"/>
<line x1="789.8" y1="845.8" x2="855.8" y2="845.8" stroke="#fff" stroke-width="1" />
<line x1="822.8" y1="813.8" x2="822.8" y2="877.8" stroke="#fff" stroke-width="1" />
<path d="M372.0 1520.1 L372.0 1504.6 A15.5 15.5 0 0 1 387.5 1520.1 Z M372.0 1520.1 L372.0 1535.6 A15.5 15.5 0 0 1 356.5 1520.1 Z" fill="#fff"/>
<circle cx="372.0" cy="1520.1" r="15.5" fill="none" stroke="#fff" stroke-width="0.8"/>
<line x1="339.0" y1="1520.1" x2="405.0" y2="1520.1" stroke="#fff" stroke-width="1" />
<line x1="372.0" y1="1488.1" x2="372.0" y2="1552.1" stroke="#fff" stroke-width="1" />
<path d="M781.3 1677.6 L781.3 1662.1 A15.5 15.5 0 0 1 796.8 1677.6 Z M781.3 1677.6 L781.3 1693.1 A15.5 15.5 0 0 1 765.8 1677.6 Z" fill="#fff"/>
<circle cx="781.3" cy="1677.6" r="15.5" fill="none" stroke="#fff" stroke-width="0.8"/>
<line x1="748.3" y1="1677.6" x2="814.3" y2="1677.6" stroke="#fff" stroke-width="1" />
<line x1="781.3" y1="1645.6" x2="781.3" y2="1709.6" stroke="#fff" stroke-width="1" />
<path d="M1438.4 1535.5 L1438.4 1520.0 A15.5 15.5 0 0 1 1453.9 1535.5 Z M1438.4 1535.5 L1438.4 1551.0 A15.5 15.5 0 0 1 1422.9 1535.5 Z" fill="#fff"/>
<circle cx="1438.4" cy="1535.5" r="15.5" fill="none" stroke="#fff" stroke-width="0.8"/>
<line x1="1405.4" y1="1535.5" x2="1471.4" y2="1535.5" stroke="#fff" stroke-width="1" />
<line x1="1438.4" y1="1503.5" x2="1438.4" y2="1567.5" stroke="#fff" stroke-width="1" />
<path d="M1596.5 1660.3 L1596.5 1644.8 A15.5 15.5 0 0 1 1612.0 1660.3 Z M1596.5 1660.3 L1596.5 1675.8 A15.5 15.5 0 0 1 1581.0 1660.3 Z" fill="#fff"/>
<circle cx="1596.5" cy="1660.3" r="15.5" fill="none" stroke="#fff" stroke-width="0.8"/>
<line x1="1563.5" y1="1660.3" x2="1629.5" y2="1660.3" stroke="#fff" stroke-width="1" />
<line x1="1596.5" y1="1628.3" x2="1596.5" y2="1692.3" stroke="#fff" stroke-width="1" />
<rect x="287.3" y="210.2" width="160.4" height="58.4" fill="url(#pTri)" stroke="#000" stroke-width="2.2" />
<rect x="287.3" y="280.2" width="160.4" height="58.3" fill="#fee9d7" stroke="#000" stroke-width="2.2" />
<rect x="287.3" y="350.2" width="160.4" height="58.3" fill="#fca653" stroke="#000" stroke-width="2.2" />
<rect x="287.3" y="425.0" width="160.4" height="59.2" fill="url(#pOrd)" stroke="#000" stroke-width="2.2" />
<rect x="287.3" y="499.0" width="160.4" height="58.5" fill="url(#pGrd)" stroke="#000" stroke-width="2.2" />
<rect x="287.3" y="567.3" width="160.4" height="58.7" fill="#c6efc8" stroke="#000" stroke-width="2.2" />
<rect x="287.3" y="634.0" width="160.4" height="58.8" fill="url(#pGls)" stroke="#000" stroke-width="2.2" />
<text x="453.0" y="239.0" font-size="32.8" fill="#000" xml:space="preserve">Гипсокартон</text>
<text x="681.7" y="239.0" font-size="32.8" fill="#000" xml:space="preserve">H=2,530</text>
<text x="453.0" y="308.7" font-size="32.8" fill="#000" xml:space="preserve">Гипсокартон</text>
<text x="681.7" y="308.7" font-size="32.8" fill="#000" xml:space="preserve">H=2,610</text>
<text x="459.5" y="375.0" font-size="32.8" fill="#000" xml:space="preserve">Гипсокартон</text>
<text x="687.5" y="375.0" font-size="32.8" fill="#000" xml:space="preserve">H=2,610 2,690</text>
<text x="505.0" y="413.5" font-size="32.8" fill="#000" xml:space="preserve">(ниша для карниза)</text>
<text x="453.0" y="462.5" font-size="32.8" fill="#000" xml:space="preserve">Гипсокартон</text>
<text x="681.7" y="462.5" font-size="32.8" fill="#000" xml:space="preserve">H=2,130</text>
<text x="453.0" y="536.5" font-size="32.8" fill="#000" xml:space="preserve">Натяжной потолок</text>
<text x="754.4" y="536.5" font-size="32.8" fill="#000" xml:space="preserve">H=2,610</text>
<text x="453.0" y="607.5" font-size="32.8" fill="#000" xml:space="preserve">Натяжной потолок</text>
<text x="754.4" y="607.5" font-size="32.8" fill="#000" xml:space="preserve">H=2,580</text>
<text x="462.0" y="655.5" font-size="32.8" fill="#000" xml:space="preserve">Матовое стекло</text>
<text x="462.0" y="694.0" font-size="32.8" fill="#000" xml:space="preserve">7-8 mm</text>
<text x="622.5" y="694.0" font-size="32.8" fill="#000" xml:space="preserve">H=2,660</text>
</svg></body></html>
